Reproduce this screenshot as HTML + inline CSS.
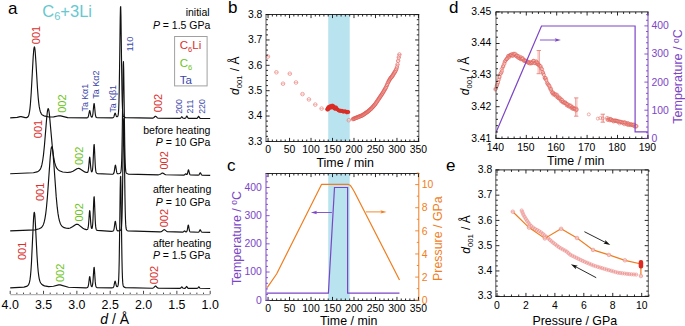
<!DOCTYPE html>
<html><head><meta charset="utf-8"><style>
html,body{margin:0;padding:0;background:#fff;overflow:hidden}
svg{display:block;font-family:"Liberation Sans", sans-serif}
</style></head><body>
<svg width="685" height="326" viewBox="0 0 685 326">
<rect width="685" height="326" fill="#fff"/>
<text x="8" y="13.6" font-size="17" fill="#000" text-anchor="start" >a</text>
<text x="42.3" y="17" font-size="16.5" fill="#66c8d0">C<tspan font-size="11" dy="3">6</tspan><tspan dy="-3">+3Li</tspan></text>
<path d="M10.2,117.88 L17.2,117.41 L20.2,116.65 L21.2,116.65 L25.2,117.57 L26.45,117.61 L27.2,117.43 L27.7,117.09 L28.2,116.45 L28.45,115.96 L28.95,114.48 L29.45,112.12 L29.95,108.57 L30.45,103.57 L31.2,93.07 L33.2,56.7 L33.7,50.43 L33.95,48.42 L34.2,47.25 L34.45,46.98 L34.7,47.67 L34.95,49.31 L35.2,51.78 L35.95,62.71 L37.45,87.91 L38.2,97.66 L38.7,102.61 L39.2,106.4 L39.7,109.19 L40.2,111.19 L40.7,112.6 L41.2,113.59 L41.7,114.3 L42.45,115.02 L43.95,115.87 L48.95,116.96 L53.7,116.87 L58.95,115.8 L60.7,115.91 L67.7,117.6 L86.7,117.85 L87.45,117.69 L87.7,117.55 L87.95,117.3 L88.2,116.85 L88.45,116.13 L88.95,113.7 L89.45,111.02 L89.7,110.53 L89.95,110.99 L90.7,114.92 L90.95,115.94 L91.2,116.61 L91.45,116.98 L91.7,117.12 L91.95,117.07 L92.2,116.81 L92.45,116.24 L92.7,115.2 L92.95,113.54 L93.7,105.66 L93.95,103.77 L94.2,103.59 L94.45,105.21 L95.2,113.22 L95.45,115.04 L95.7,116.23 L95.95,116.93 L96.2,117.31 L96.45,117.52 L97.2,117.78 L112.2,117.87 L112.95,117.72 L113.2,117.6 L113.45,117.39 L113.7,117.03 L113.95,116.48 L114.7,113.89 L114.95,113.26 L115.2,113.15 L115.45,113.61 L116.2,115.94 L116.45,116.42 L116.7,116.69 L116.95,116.78 L117.2,116.74 L117.45,116.59 L117.7,116.3 L117.95,115.75 L118.2,114.69 L118.45,112.63 L118.7,108.79 L118.95,102.13 L119.2,91.6 L119.7,57.91 L120.2,19.21 L120.45,7.65 L120.7,6.52 L120.95,16.22 L121.7,73.21 L121.95,89.02 L122.2,100.42 L122.45,107.79 L122.7,112.12 L122.95,114.48 L123.2,115.71 L123.45,116.35 L123.7,116.72 L124.2,117.13 L125.45,117.62 L152.2,118.19 L152.95,118.06 L153.45,117.86 L153.95,117.51 L154.95,116.5 L155.2,116.32 L155.45,116.23 L155.7,116.27 L155.95,116.42 L157.2,117.64 L157.7,117.95 L158.7,118.2 L179.95,118.32 L180.45,118.2 L180.7,118.04 L180.95,117.76 L181.45,116.99 L181.7,116.72 L181.95,116.75 L182.7,117.82 L182.95,118.07 L183.2,118.21 L184.7,118.31 L185.2,118.24 L185.45,118.12 L185.7,117.89 L185.95,117.51 L186.45,116.42 L186.7,116.05 L186.95,116.1 L187.2,116.53 L187.7,117.61 L187.95,117.97 L188.2,118.17 L188.7,118.33 L196.7,118.36 L197.2,118.22 L197.45,118.04 L197.7,117.71 L198.2,116.73 L198.45,116.33 L198.7,116.29 L198.95,116.63 L199.45,117.64 L199.7,117.99 L199.95,118.2 L200.45,118.37 L210.2,118.49" fill="none" stroke="#111" stroke-width="1.15" stroke-linejoin="round"/>
<path d="M10.2,173.77 L33.45,172.8 L36.95,171.92 L38.45,171.17 L39.2,170.57 L39.95,169.68 L40.45,168.85 L40.95,167.75 L41.45,166.29 L41.95,164.39 L42.7,160.51 L43.45,155.12 L44.45,145.43 L46.7,117.9 L47.2,113.04 L47.45,111.19 L47.7,109.81 L47.95,108.96 L48.2,108.67 L48.45,108.94 L48.7,109.74 L48.95,111.04 L49.45,114.91 L52.2,145.52 L53.2,154.13 L53.95,158.99 L54.7,162.63 L55.45,165.26 L56.2,167.12 L56.95,168.44 L57.95,169.63 L59.45,170.74 L62.7,171.96 L67.45,172.53 L70.45,172.19 L72.95,171.24 L76.95,168.79 L77.95,168.45 L78.7,168.43 L79.45,168.61 L84.7,171.89 L86.2,172.42 L86.95,172.5 L87.2,172.47 L87.45,172.36 L87.7,172.13 L87.95,171.63 L88.2,170.71 L88.45,169.17 L88.7,166.89 L89.45,158.18 L89.7,157.13 L89.95,158.18 L90.7,166.87 L90.95,169.13 L91.2,170.63 L91.45,171.47 L91.7,171.81 L91.95,171.75 L92.2,171.25 L92.45,170.12 L92.7,168.03 L92.95,164.69 L93.7,148.76 L93.95,144.95 L94.2,144.59 L94.45,147.89 L95.2,164.16 L95.45,167.87 L95.7,170.28 L95.95,171.71 L96.2,172.5 L96.45,172.93 L96.7,173.19 L97.45,173.58 L111.7,174.24 L112.95,174.06 L113.2,173.95 L113.45,173.76 L113.7,173.41 L113.95,172.8 L114.2,171.82 L114.95,166.88 L115.2,165.51 L115.45,165.14 L115.7,165.94 L116.45,170.93 L116.7,172.14 L116.95,172.93 L117.2,173.4 L117.45,173.64 L117.7,173.75 L118.45,173.79 L119.45,173.56 L119.95,173.32 L120.2,173.12 L120.45,172.83 L120.7,172.33 L120.95,171.39 L121.2,169.57 L121.45,166.14 L121.7,160.09 L121.95,150.35 L122.2,136.22 L122.95,78.39 L123.2,65.05 L123.45,61.66 L123.7,69.4 L124.7,142.46 L124.95,154.81 L125.2,162.97 L125.45,167.84 L125.7,170.53 L125.95,171.95 L126.2,172.69 L126.45,173.1 L126.95,173.54 L128.2,174.06 L158.45,174.81 L159.7,174.55 L160.7,174.02 L161.95,173.15 L162.45,173 L162.7,173.03 L163.2,173.25 L164.7,174.31 L165.7,174.73 L183.95,175.06 L184.45,174.93 L184.7,174.77 L185.45,173.91 L185.7,173.78 L185.95,173.88 L186.45,174.39 L186.7,174.53 L186.95,174.5 L187.2,174.21 L187.45,173.61 L188.2,170.4 L188.45,169.8 L188.7,170.08 L189.45,173.33 L189.7,174.11 L189.95,174.58 L190.2,174.84 L190.7,175.04 L198.2,175.18 L198.7,175.06 L198.95,174.9 L199.2,174.62 L199.95,173.08 L200.2,172.73 L200.45,172.77 L200.7,173.19 L201.2,174.31 L201.45,174.71 L201.7,174.97 L201.95,175.11 L210.2,175.37" fill="none" stroke="#111" stroke-width="1.15" stroke-linejoin="round"/>
<path d="M10.2,230.93 L35.2,229.82 L39.2,228.81 L40.7,228.05 L41.7,227.23 L42.45,226.29 L43.2,224.9 L43.7,223.62 L44.2,221.96 L44.95,218.57 L45.7,213.83 L46.45,207.49 L47.45,196.36 L50.2,157.6 L50.7,152.18 L50.95,150.08 L51.2,148.46 L51.45,147.36 L51.7,146.84 L51.95,146.9 L52.2,147.56 L52.45,148.8 L52.95,152.83 L53.95,165.25 L56.2,196.66 L57.2,207.18 L57.95,213.15 L58.7,217.63 L59.45,220.86 L60.2,223.14 L60.95,224.72 L61.7,225.81 L62.7,226.79 L64.2,227.67 L66.45,228.3 L68.45,228.34 L70.2,227.94 L72.45,226.77 L75.45,224.66 L76.2,224.32 L76.95,224.2 L77.7,224.32 L78.7,224.83 L82.95,228.26 L84.7,229.18 L86.2,229.57 L86.95,229.56 L87.2,229.49 L87.45,229.33 L87.7,229.02 L87.95,228.39 L88.2,227.24 L88.45,225.34 L88.7,222.53 L89.45,211.83 L89.7,210.55 L89.95,211.81 L90.7,222.41 L90.95,225.17 L91.2,227 L91.45,228.03 L91.7,228.45 L91.95,228.4 L92.2,227.82 L92.45,226.49 L92.7,224.07 L92.95,220.17 L93.7,201.6 L93.95,197.16 L94.2,196.74 L94.45,200.58 L95.2,219.55 L95.45,223.86 L95.7,226.67 L95.95,228.33 L96.2,229.25 L96.45,229.76 L96.7,230.06 L97.2,230.4 L111.2,231.31 L112.7,231.13 L113.2,230.9 L113.45,230.63 L113.7,230.14 L113.95,229.31 L114.2,228.04 L114.95,222.44 L115.2,221.3 L115.45,221.43 L115.7,222.75 L116.45,228.25 L116.7,229.41 L116.95,230.13 L117.2,230.54 L117.45,230.76 L117.95,230.9 L119.2,230.8 L119.95,230.55 L120.45,230.23 L120.7,229.97 L120.95,229.52 L121.2,228.7 L121.45,227.1 L121.7,224.07 L121.95,218.65 L122.2,209.74 L122.45,196.52 L123.2,139.13 L123.45,124.28 L123.7,118.69 L123.95,124.29 L124.2,139.15 L124.95,196.57 L125.2,209.8 L125.45,218.72 L125.7,224.15 L125.95,227.19 L126.2,228.8 L126.45,229.63 L126.7,230.09 L126.95,230.37 L127.7,230.84 L159.95,231.87 L161.2,231.63 L161.95,231.28 L163.7,229.86 L163.95,229.73 L164.2,229.66 L164.45,229.67 L164.95,229.91 L166.45,231.18 L167.2,231.6 L182.7,232.08 L183.2,231.98 L183.45,231.85 L184.2,231.08 L184.45,230.92 L184.7,230.98 L185.45,231.7 L185.7,231.83 L185.95,231.89 L186.2,231.87 L186.45,231.78 L186.7,231.57 L186.95,231.14 L187.2,230.37 L187.45,229.18 L187.95,226.09 L188.2,225.1 L188.45,225.23 L188.7,226.39 L189.2,229.47 L189.45,230.59 L189.7,231.29 L189.95,231.68 L190.2,231.87 L197.95,232.2 L198.45,232.12 L198.7,232.02 L198.95,231.83 L199.2,231.5 L199.95,230 L200.2,229.79 L200.45,230 L201.2,231.52 L201.45,231.85 L201.7,232.05 L202.2,232.2 L210.2,232.36" fill="none" stroke="#111" stroke-width="1.15" stroke-linejoin="round"/>
<path d="M10.2,287.88 L23.95,287.08 L26.45,286.4 L27.45,285.87 L27.95,285.46 L28.45,284.84 L28.95,283.88 L29.45,282.34 L29.95,279.89 L30.45,276.1 L30.95,270.56 L31.45,262.97 L33.45,220.4 L33.7,216.47 L33.95,213.72 L34.2,212.35 L34.45,212.48 L34.7,213.97 L34.95,216.69 L35.45,224.87 L36.95,254.65 L37.7,265.97 L38.2,271.51 L38.7,275.61 L39.2,278.54 L39.7,280.59 L40.2,282.01 L40.7,283.01 L41.45,284.02 L42.45,284.88 L44.45,285.86 L48.7,286.6 L53.45,286.27 L58.7,284.9 L60.2,284.9 L68.45,287.23 L85.95,287.82 L87.2,287.6 L87.45,287.48 L87.7,287.27 L87.95,286.89 L88.2,286.21 L88.45,285.1 L88.7,283.47 L89.45,277.31 L89.7,276.56 L89.95,277.27 L90.7,283.28 L90.95,284.83 L91.2,285.86 L91.45,286.44 L91.7,286.66 L91.95,286.6 L92.2,286.24 L92.45,285.43 L92.7,283.95 L92.95,281.6 L93.7,270.37 L93.95,267.69 L94.2,267.43 L94.45,269.73 L95.2,281.15 L95.45,283.75 L95.7,285.44 L95.95,286.43 L96.2,286.98 L96.45,287.28 L96.95,287.57 L111.7,287.91 L112.7,287.74 L112.95,287.65 L113.2,287.48 L113.45,287.18 L113.7,286.68 L113.95,285.89 L114.7,282.22 L114.95,281.33 L115.2,281.2 L115.45,281.88 L116.2,285.3 L116.45,286.03 L116.7,286.46 L116.95,286.65 L117.2,286.66 L117.45,286.54 L117.7,286.26 L117.95,285.72 L118.2,284.67 L118.45,282.61 L118.7,278.77 L118.95,272.1 L119.2,261.56 L119.7,227.8 L120.2,189.04 L120.45,177.47 L120.7,176.34 L120.95,186.05 L121.7,243.15 L121.95,258.98 L122.2,270.41 L122.45,277.79 L122.7,282.13 L122.95,284.49 L123.2,285.72 L123.45,286.37 L123.7,286.74 L124.2,287.15 L125.45,287.64 L152.2,288.2 L152.95,288.06 L153.45,287.83 L153.95,287.45 L154.95,286.35 L155.2,286.15 L155.45,286.05 L155.7,286.1 L155.95,286.26 L157.2,287.6 L157.7,287.93 L158.45,288.17 L179.95,288.34 L180.45,288.23 L180.7,288.09 L181.45,287.16 L181.7,286.93 L181.95,286.96 L182.7,287.9 L182.95,288.12 L183.45,288.3 L184.7,288.32 L185.2,288.2 L185.45,288.03 L185.7,287.74 L186.45,286.49 L186.7,286.45 L186.95,286.77 L187.45,287.68 L187.7,288 L187.95,288.19 L188.45,288.34 L196.95,288.38 L197.45,288.27 L197.7,288.11 L197.95,287.86 L198.45,287.13 L198.7,286.88 L198.95,286.91 L199.7,287.92 L199.95,288.16 L200.2,288.3 L210.2,288.48" fill="none" stroke="#111" stroke-width="1.15" stroke-linejoin="round"/>
<line x1="10.2" y1="294.6" x2="210.4" y2="294.6" stroke="#b4b4b4" stroke-width="1.4"/>
<line x1="10.2" y1="294" x2="10.2" y2="290.8" stroke="#333" stroke-width="0.9" />
<line x1="16.87" y1="294" x2="16.87" y2="292.6" stroke="#333" stroke-width="0.9" />
<line x1="23.53" y1="294" x2="23.53" y2="292.6" stroke="#333" stroke-width="0.9" />
<line x1="30.2" y1="294" x2="30.2" y2="292.6" stroke="#333" stroke-width="0.9" />
<line x1="36.87" y1="294" x2="36.87" y2="292.6" stroke="#333" stroke-width="0.9" />
<line x1="43.53" y1="294" x2="43.53" y2="290.8" stroke="#333" stroke-width="0.9" />
<line x1="50.2" y1="294" x2="50.2" y2="292.6" stroke="#333" stroke-width="0.9" />
<line x1="56.87" y1="294" x2="56.87" y2="292.6" stroke="#333" stroke-width="0.9" />
<line x1="63.53" y1="294" x2="63.53" y2="292.6" stroke="#333" stroke-width="0.9" />
<line x1="70.2" y1="294" x2="70.2" y2="292.6" stroke="#333" stroke-width="0.9" />
<line x1="76.87" y1="294" x2="76.87" y2="290.8" stroke="#333" stroke-width="0.9" />
<line x1="83.53" y1="294" x2="83.53" y2="292.6" stroke="#333" stroke-width="0.9" />
<line x1="90.2" y1="294" x2="90.2" y2="292.6" stroke="#333" stroke-width="0.9" />
<line x1="96.87" y1="294" x2="96.87" y2="292.6" stroke="#333" stroke-width="0.9" />
<line x1="103.53" y1="294" x2="103.53" y2="292.6" stroke="#333" stroke-width="0.9" />
<line x1="110.2" y1="294" x2="110.2" y2="290.8" stroke="#333" stroke-width="0.9" />
<line x1="116.87" y1="294" x2="116.87" y2="292.6" stroke="#333" stroke-width="0.9" />
<line x1="123.53" y1="294" x2="123.53" y2="292.6" stroke="#333" stroke-width="0.9" />
<line x1="130.2" y1="294" x2="130.2" y2="292.6" stroke="#333" stroke-width="0.9" />
<line x1="136.87" y1="294" x2="136.87" y2="292.6" stroke="#333" stroke-width="0.9" />
<line x1="143.53" y1="294" x2="143.53" y2="290.8" stroke="#333" stroke-width="0.9" />
<line x1="150.2" y1="294" x2="150.2" y2="292.6" stroke="#333" stroke-width="0.9" />
<line x1="156.87" y1="294" x2="156.87" y2="292.6" stroke="#333" stroke-width="0.9" />
<line x1="163.53" y1="294" x2="163.53" y2="292.6" stroke="#333" stroke-width="0.9" />
<line x1="170.2" y1="294" x2="170.2" y2="292.6" stroke="#333" stroke-width="0.9" />
<line x1="176.87" y1="294" x2="176.87" y2="290.8" stroke="#333" stroke-width="0.9" />
<line x1="183.53" y1="294" x2="183.53" y2="292.6" stroke="#333" stroke-width="0.9" />
<line x1="190.2" y1="294" x2="190.2" y2="292.6" stroke="#333" stroke-width="0.9" />
<line x1="196.87" y1="294" x2="196.87" y2="292.6" stroke="#333" stroke-width="0.9" />
<line x1="203.53" y1="294" x2="203.53" y2="292.6" stroke="#333" stroke-width="0.9" />
<line x1="210.2" y1="294" x2="210.2" y2="290.8" stroke="#333" stroke-width="0.9" />
<text x="10.2" y="309" font-size="12.4" fill="#000" text-anchor="middle" >4.0</text>
<text x="43.53" y="309" font-size="12.4" fill="#000" text-anchor="middle" >3.5</text>
<text x="76.87" y="309" font-size="12.4" fill="#000" text-anchor="middle" >3.0</text>
<text x="110.2" y="309" font-size="12.4" fill="#000" text-anchor="middle" >2.5</text>
<text x="143.53" y="309" font-size="12.4" fill="#000" text-anchor="middle" >2.0</text>
<text x="176.86" y="309" font-size="12.4" fill="#000" text-anchor="middle" >1.5</text>
<text x="210.2" y="309" font-size="12.4" fill="#000" text-anchor="middle" >1.0</text>
<text x="114.7" y="323.5" font-size="14" text-anchor="middle"><tspan font-style="italic">d</tspan> / Å</text>
<text transform="translate(39.6,44.2) rotate(-90)" font-size="11" fill="#d9302c" text-anchor="start">001</text>
<text transform="translate(66,112.8) rotate(-90)" font-size="11" fill="#6cc322" text-anchor="start">002</text>
<text transform="translate(87.8,111.5) rotate(-90)" font-size="8.8" fill="#3c46aa" text-anchor="start">Ta Kα1</text>
<text transform="translate(98.7,98.8) rotate(-90)" font-size="9.0" fill="#3c46aa" text-anchor="start">Ta Kα2</text>
<text transform="translate(116,112.6) rotate(-90)" font-size="8.8" fill="#3c46aa" text-anchor="start">Ta Kβ1</text>
<text transform="translate(132.5,51.4) rotate(-90)" font-size="9.3" fill="#3c46aa" text-anchor="start">110</text>
<text transform="translate(161.5,112.2) rotate(-90)" font-size="11" fill="#d9302c" text-anchor="start">002</text>
<text transform="translate(182.2,113.8) rotate(-90)" font-size="8.8" fill="#3c46aa" text-anchor="start">200</text>
<text transform="translate(192.6,113.6) rotate(-90)" font-size="8.8" fill="#3c46aa" text-anchor="start">211</text>
<text transform="translate(204.5,113.8) rotate(-90)" font-size="8.8" fill="#3c46aa" text-anchor="start">220</text>
<text transform="translate(41.8,138.2) rotate(-90)" font-size="11" fill="#d9302c" text-anchor="start">001</text>
<text transform="translate(83,165.1) rotate(-90)" font-size="11" fill="#6cc322" text-anchor="start">002</text>
<text transform="translate(167.6,169.5) rotate(-90)" font-size="11" fill="#d9302c" text-anchor="start">002</text>
<text transform="translate(43.6,201) rotate(-90)" font-size="11" fill="#d9302c" text-anchor="start">001</text>
<text transform="translate(83,221.6) rotate(-90)" font-size="11" fill="#6cc322" text-anchor="start">002</text>
<text transform="translate(167.6,227.3) rotate(-90)" font-size="11" fill="#d9302c" text-anchor="start">002</text>
<text transform="translate(26.4,260.1) rotate(-90)" font-size="11" fill="#d9302c" text-anchor="start">001</text>
<text transform="translate(64.2,282) rotate(-90)" font-size="11" fill="#6cc322" text-anchor="start">002</text>
<text transform="translate(158,284.2) rotate(-90)" font-size="11" fill="#d9302c" text-anchor="start">002</text>
<text x="209.6" y="16" font-size="10.5" fill="#000" text-anchor="end" >initial</text>
<text x="210.4" y="28.5" font-size="10.5" fill="#000" text-anchor="end" ><tspan font-style="italic">P</tspan> = 1.5 GPa</text>
<text x="210.4" y="134" font-size="10.5" fill="#000" text-anchor="end" >before heating</text>
<text x="210.4" y="146.4" font-size="10.5" fill="#000" text-anchor="end" ><tspan font-style="italic">P</tspan> = 10 GPa</text>
<text x="211.3" y="193" font-size="10.5" fill="#000" text-anchor="end" >after heating</text>
<text x="210.4" y="205.7" font-size="10.5" fill="#000" text-anchor="end" ><tspan font-style="italic">P</tspan> = 10 GPa</text>
<text x="211.3" y="246.5" font-size="10.5" fill="#000" text-anchor="end" >after heating</text>
<text x="210.4" y="258.8" font-size="10.5" fill="#000" text-anchor="end" ><tspan font-style="italic">P</tspan> = 1.5 GPa</text>
<rect x="174.6" y="36.5" width="32.5" height="49.4" fill="#fff" stroke="#a0a0a0" stroke-width="1"/>
<text x="179.8" y="49.3" font-size="11.5" fill="#d9302c">C<tspan font-size="7.5" dy="2.7">6</tspan><tspan dy="-2.7">Li</tspan></text>
<text x="179.8" y="66.8" font-size="11.5" fill="#6cc322">C<tspan font-size="7.5" dy="2.7">6</tspan></text>
<text x="179.8" y="83.7" font-size="11.5" fill="#3c46aa">Ta</text>
<rect x="328.21" y="14.5" width="21.48" height="127" fill="#b8e3ef"/>
<text x="228" y="13.4" font-size="17" fill="#000" text-anchor="start" >b</text>
<circle cx="267.9" cy="56.6" r="1.8" fill="rgba(255,255,255,0.4)" stroke="#e8706a" stroke-width="0.6"/>
<line x1="266.1" y1="56.6" x2="269.7" y2="56.6" stroke="#e8706a" stroke-width="0.45" />
<circle cx="276.4" cy="72.3" r="1.8" fill="rgba(255,255,255,0.4)" stroke="#e8706a" stroke-width="0.6"/>
<line x1="274.6" y1="72.3" x2="278.2" y2="72.3" stroke="#e8706a" stroke-width="0.45" />
<circle cx="283" cy="83.7" r="1.8" fill="rgba(255,255,255,0.4)" stroke="#e8706a" stroke-width="0.6"/>
<line x1="281.2" y1="83.7" x2="284.8" y2="83.7" stroke="#e8706a" stroke-width="0.45" />
<circle cx="289.8" cy="73.7" r="1.8" fill="rgba(255,255,255,0.4)" stroke="#e8706a" stroke-width="0.6"/>
<line x1="288" y1="73.7" x2="291.6" y2="73.7" stroke="#e8706a" stroke-width="0.45" />
<circle cx="296" cy="82.5" r="1.8" fill="rgba(255,255,255,0.4)" stroke="#e8706a" stroke-width="0.6"/>
<line x1="294.2" y1="82.5" x2="297.8" y2="82.5" stroke="#e8706a" stroke-width="0.45" />
<circle cx="302.5" cy="94.1" r="1.8" fill="rgba(255,255,255,0.4)" stroke="#e8706a" stroke-width="0.6"/>
<line x1="300.7" y1="94.1" x2="304.3" y2="94.1" stroke="#e8706a" stroke-width="0.45" />
<circle cx="308.9" cy="99.4" r="1.8" fill="rgba(255,255,255,0.4)" stroke="#e8706a" stroke-width="0.6"/>
<line x1="307.1" y1="99.4" x2="310.7" y2="99.4" stroke="#e8706a" stroke-width="0.45" />
<circle cx="315.3" cy="104.6" r="1.8" fill="rgba(255,255,255,0.4)" stroke="#e8706a" stroke-width="0.6"/>
<line x1="313.5" y1="104.6" x2="317.1" y2="104.6" stroke="#e8706a" stroke-width="0.45" />
<circle cx="321.6" cy="108.6" r="1.8" fill="rgba(255,255,255,0.4)" stroke="#e8706a" stroke-width="0.6"/>
<line x1="319.8" y1="108.6" x2="323.4" y2="108.6" stroke="#e8706a" stroke-width="0.45" />
<circle cx="348.8" cy="120.2" r="1.8" fill="rgba(255,255,255,0.4)" stroke="#e8706a" stroke-width="0.6"/>
<line x1="347" y1="120.2" x2="350.6" y2="120.2" stroke="#e8706a" stroke-width="0.45" />
<circle cx="327.44" cy="109.37" r="1.9" fill="#e0322a" stroke="#d42a22" stroke-width="0.5"/>
<circle cx="327.86" cy="109.06" r="1.9" fill="#e0322a" stroke="#d42a22" stroke-width="0.5"/>
<circle cx="328.35" cy="107.79" r="1.9" fill="#e0322a" stroke="#d42a22" stroke-width="0.5"/>
<circle cx="328.32" cy="108.61" r="1.9" fill="#e0322a" stroke="#d42a22" stroke-width="0.5"/>
<circle cx="328.8" cy="107.24" r="1.9" fill="#e0322a" stroke="#d42a22" stroke-width="0.5"/>
<circle cx="329.69" cy="107.33" r="1.9" fill="#e0322a" stroke="#d42a22" stroke-width="0.5"/>
<circle cx="330.05" cy="107.08" r="1.9" fill="#e0322a" stroke="#d42a22" stroke-width="0.5"/>
<circle cx="330.4" cy="106.3" r="1.9" fill="#e0322a" stroke="#d42a22" stroke-width="0.5"/>
<circle cx="330.88" cy="107.28" r="1.9" fill="#e0322a" stroke="#d42a22" stroke-width="0.5"/>
<circle cx="331.34" cy="107.05" r="1.9" fill="#e0322a" stroke="#d42a22" stroke-width="0.5"/>
<circle cx="331.96" cy="105.94" r="1.9" fill="#e0322a" stroke="#d42a22" stroke-width="0.5"/>
<circle cx="332.54" cy="106.75" r="1.9" fill="#e0322a" stroke="#d42a22" stroke-width="0.5"/>
<circle cx="332.78" cy="105.98" r="1.9" fill="#e0322a" stroke="#d42a22" stroke-width="0.5"/>
<circle cx="333.62" cy="106.86" r="1.9" fill="#e0322a" stroke="#d42a22" stroke-width="0.5"/>
<circle cx="334.03" cy="107.67" r="1.9" fill="#e0322a" stroke="#d42a22" stroke-width="0.5"/>
<circle cx="334.48" cy="108.01" r="1.9" fill="#e0322a" stroke="#d42a22" stroke-width="0.5"/>
<circle cx="334.73" cy="108.11" r="1.9" fill="#e0322a" stroke="#d42a22" stroke-width="0.5"/>
<circle cx="335.2" cy="108.62" r="1.9" fill="#e0322a" stroke="#d42a22" stroke-width="0.5"/>
<circle cx="335.91" cy="107.57" r="1.9" fill="#e0322a" stroke="#d42a22" stroke-width="0.5"/>
<circle cx="335.89" cy="108.28" r="1.45" fill="#e0322a" stroke="#d42a22" stroke-width="0.5"/>
<circle cx="336.81" cy="108.8" r="1.45" fill="#e0322a" stroke="#d42a22" stroke-width="0.5"/>
<circle cx="337.02" cy="109" r="1.45" fill="#e0322a" stroke="#d42a22" stroke-width="0.5"/>
<circle cx="337.37" cy="109.4" r="1.45" fill="#e0322a" stroke="#d42a22" stroke-width="0.5"/>
<circle cx="337.73" cy="109.85" r="1.45" fill="#e0322a" stroke="#d42a22" stroke-width="0.5"/>
<circle cx="338.34" cy="110.38" r="1.45" fill="#e0322a" stroke="#d42a22" stroke-width="0.5"/>
<circle cx="338.87" cy="110.66" r="1.45" fill="#e0322a" stroke="#d42a22" stroke-width="0.5"/>
<circle cx="339.46" cy="110.91" r="1.45" fill="#e0322a" stroke="#d42a22" stroke-width="0.5"/>
<circle cx="339.86" cy="110.3" r="1.45" fill="#e0322a" stroke="#d42a22" stroke-width="0.5"/>
<circle cx="340.49" cy="111.15" r="1.45" fill="#e0322a" stroke="#d42a22" stroke-width="0.5"/>
<circle cx="341.03" cy="110.93" r="1.45" fill="#e0322a" stroke="#d42a22" stroke-width="0.5"/>
<circle cx="341.43" cy="110.72" r="1.45" fill="#e0322a" stroke="#d42a22" stroke-width="0.5"/>
<circle cx="342.02" cy="111.14" r="1.45" fill="#e0322a" stroke="#d42a22" stroke-width="0.5"/>
<circle cx="342.21" cy="110.78" r="1.45" fill="#e0322a" stroke="#d42a22" stroke-width="0.5"/>
<circle cx="343.08" cy="111.71" r="1.45" fill="#e0322a" stroke="#d42a22" stroke-width="0.5"/>
<circle cx="343.14" cy="111.64" r="1.45" fill="#e0322a" stroke="#d42a22" stroke-width="0.5"/>
<circle cx="343.85" cy="111.15" r="1.45" fill="#e0322a" stroke="#d42a22" stroke-width="0.5"/>
<circle cx="344.3" cy="111.8" r="1.45" fill="#e0322a" stroke="#d42a22" stroke-width="0.5"/>
<circle cx="345.17" cy="111.24" r="1.45" fill="#e0322a" stroke="#d42a22" stroke-width="0.5"/>
<circle cx="345.54" cy="111.34" r="1.45" fill="#e0322a" stroke="#d42a22" stroke-width="0.5"/>
<circle cx="346.12" cy="111.71" r="1.45" fill="#e0322a" stroke="#d42a22" stroke-width="0.5"/>
<circle cx="346.74" cy="112.39" r="1.45" fill="#e0322a" stroke="#d42a22" stroke-width="0.5"/>
<circle cx="347.03" cy="112.51" r="1.45" fill="#e0322a" stroke="#d42a22" stroke-width="0.5"/>
<circle cx="347.44" cy="111.77" r="1.45" fill="#e0322a" stroke="#d42a22" stroke-width="0.5"/>
<circle cx="348.14" cy="111.8" r="1.45" fill="#e0322a" stroke="#d42a22" stroke-width="0.5"/>
<circle cx="348.42" cy="112.22" r="1.45" fill="#e0322a" stroke="#d42a22" stroke-width="0.5"/>
<circle cx="352.9" cy="119.1" r="1.75" fill="rgba(255,255,255,0.4)" stroke="#dd4a42" stroke-width="0.55"/>
<line x1="351.15" y1="119.1" x2="354.65" y2="119.1" stroke="#dd4a42" stroke-width="0.45" />
<circle cx="353.52" cy="118.86" r="1.75" fill="rgba(255,255,255,0.4)" stroke="#dd4a42" stroke-width="0.55"/>
<line x1="351.77" y1="118.86" x2="355.27" y2="118.86" stroke="#dd4a42" stroke-width="0.45" />
<circle cx="354.14" cy="118.61" r="1.75" fill="rgba(255,255,255,0.4)" stroke="#dd4a42" stroke-width="0.55"/>
<line x1="352.39" y1="118.61" x2="355.89" y2="118.61" stroke="#dd4a42" stroke-width="0.45" />
<circle cx="354.76" cy="118.37" r="1.75" fill="rgba(255,255,255,0.4)" stroke="#dd4a42" stroke-width="0.55"/>
<line x1="353.01" y1="118.37" x2="356.51" y2="118.37" stroke="#dd4a42" stroke-width="0.45" />
<circle cx="355.38" cy="118.13" r="1.75" fill="rgba(255,255,255,0.4)" stroke="#dd4a42" stroke-width="0.55"/>
<line x1="353.63" y1="118.13" x2="357.13" y2="118.13" stroke="#dd4a42" stroke-width="0.45" />
<circle cx="356" cy="117.88" r="1.75" fill="rgba(255,255,255,0.4)" stroke="#dd4a42" stroke-width="0.55"/>
<line x1="354.25" y1="117.88" x2="357.75" y2="117.88" stroke="#dd4a42" stroke-width="0.45" />
<circle cx="356.62" cy="117.64" r="1.75" fill="rgba(255,255,255,0.4)" stroke="#dd4a42" stroke-width="0.55"/>
<line x1="354.87" y1="117.64" x2="358.37" y2="117.64" stroke="#dd4a42" stroke-width="0.45" />
<circle cx="357.24" cy="117.4" r="1.75" fill="rgba(255,255,255,0.4)" stroke="#dd4a42" stroke-width="0.55"/>
<line x1="355.49" y1="117.4" x2="358.99" y2="117.4" stroke="#dd4a42" stroke-width="0.45" />
<circle cx="357.86" cy="117.15" r="1.75" fill="rgba(255,255,255,0.4)" stroke="#dd4a42" stroke-width="0.55"/>
<line x1="356.11" y1="117.15" x2="359.61" y2="117.15" stroke="#dd4a42" stroke-width="0.45" />
<circle cx="358.48" cy="116.9" r="1.75" fill="rgba(255,255,255,0.4)" stroke="#dd4a42" stroke-width="0.55"/>
<line x1="356.73" y1="116.9" x2="360.23" y2="116.9" stroke="#dd4a42" stroke-width="0.45" />
<circle cx="359.1" cy="116.65" r="1.75" fill="rgba(255,255,255,0.4)" stroke="#dd4a42" stroke-width="0.55"/>
<line x1="357.35" y1="116.65" x2="360.85" y2="116.65" stroke="#dd4a42" stroke-width="0.45" />
<circle cx="359.72" cy="116.39" r="1.75" fill="rgba(255,255,255,0.4)" stroke="#dd4a42" stroke-width="0.55"/>
<line x1="357.97" y1="116.39" x2="361.47" y2="116.39" stroke="#dd4a42" stroke-width="0.45" />
<circle cx="360.34" cy="116.13" r="1.75" fill="rgba(255,255,255,0.4)" stroke="#dd4a42" stroke-width="0.55"/>
<line x1="358.59" y1="116.13" x2="362.09" y2="116.13" stroke="#dd4a42" stroke-width="0.45" />
<circle cx="360.96" cy="115.88" r="1.75" fill="rgba(255,255,255,0.4)" stroke="#dd4a42" stroke-width="0.55"/>
<line x1="359.21" y1="115.88" x2="362.71" y2="115.88" stroke="#dd4a42" stroke-width="0.45" />
<circle cx="361.58" cy="115.62" r="1.75" fill="rgba(255,255,255,0.4)" stroke="#dd4a42" stroke-width="0.55"/>
<line x1="359.83" y1="115.62" x2="363.33" y2="115.62" stroke="#dd4a42" stroke-width="0.45" />
<circle cx="362.2" cy="115.37" r="1.75" fill="rgba(255,255,255,0.4)" stroke="#dd4a42" stroke-width="0.55"/>
<line x1="360.45" y1="115.37" x2="363.95" y2="115.37" stroke="#dd4a42" stroke-width="0.45" />
<circle cx="362.82" cy="115.05" r="1.75" fill="rgba(255,255,255,0.4)" stroke="#dd4a42" stroke-width="0.55"/>
<line x1="361.07" y1="115.05" x2="364.57" y2="115.05" stroke="#dd4a42" stroke-width="0.45" />
<circle cx="363.44" cy="114.62" r="1.75" fill="rgba(255,255,255,0.4)" stroke="#dd4a42" stroke-width="0.55"/>
<line x1="361.69" y1="114.62" x2="365.19" y2="114.62" stroke="#dd4a42" stroke-width="0.45" />
<circle cx="364.06" cy="114.19" r="1.75" fill="rgba(255,255,255,0.4)" stroke="#dd4a42" stroke-width="0.55"/>
<line x1="362.31" y1="114.19" x2="365.81" y2="114.19" stroke="#dd4a42" stroke-width="0.45" />
<circle cx="364.68" cy="113.76" r="1.75" fill="rgba(255,255,255,0.4)" stroke="#dd4a42" stroke-width="0.55"/>
<line x1="362.93" y1="113.76" x2="366.43" y2="113.76" stroke="#dd4a42" stroke-width="0.45" />
<circle cx="365.3" cy="113.33" r="1.75" fill="rgba(255,255,255,0.4)" stroke="#dd4a42" stroke-width="0.55"/>
<line x1="363.55" y1="113.33" x2="367.05" y2="113.33" stroke="#dd4a42" stroke-width="0.45" />
<circle cx="365.92" cy="112.9" r="1.75" fill="rgba(255,255,255,0.4)" stroke="#dd4a42" stroke-width="0.55"/>
<line x1="364.17" y1="112.9" x2="367.67" y2="112.9" stroke="#dd4a42" stroke-width="0.45" />
<circle cx="366.54" cy="112.47" r="1.75" fill="rgba(255,255,255,0.4)" stroke="#dd4a42" stroke-width="0.55"/>
<line x1="364.79" y1="112.47" x2="368.29" y2="112.47" stroke="#dd4a42" stroke-width="0.45" />
<circle cx="367.16" cy="112.04" r="1.75" fill="rgba(255,255,255,0.4)" stroke="#dd4a42" stroke-width="0.55"/>
<line x1="365.41" y1="112.04" x2="368.91" y2="112.04" stroke="#dd4a42" stroke-width="0.45" />
<circle cx="367.78" cy="111.61" r="1.75" fill="rgba(255,255,255,0.4)" stroke="#dd4a42" stroke-width="0.55"/>
<line x1="366.03" y1="111.61" x2="369.53" y2="111.61" stroke="#dd4a42" stroke-width="0.45" />
<circle cx="368.4" cy="111.08" r="1.75" fill="rgba(255,255,255,0.4)" stroke="#dd4a42" stroke-width="0.55"/>
<line x1="366.65" y1="111.08" x2="370.15" y2="111.08" stroke="#dd4a42" stroke-width="0.45" />
<circle cx="369.02" cy="110.54" r="1.75" fill="rgba(255,255,255,0.4)" stroke="#dd4a42" stroke-width="0.55"/>
<line x1="367.27" y1="110.54" x2="370.77" y2="110.54" stroke="#dd4a42" stroke-width="0.45" />
<circle cx="369.64" cy="110.01" r="1.75" fill="rgba(255,255,255,0.4)" stroke="#dd4a42" stroke-width="0.55"/>
<line x1="367.89" y1="110.01" x2="371.39" y2="110.01" stroke="#dd4a42" stroke-width="0.45" />
<circle cx="370.26" cy="109.47" r="1.75" fill="rgba(255,255,255,0.4)" stroke="#dd4a42" stroke-width="0.55"/>
<line x1="368.51" y1="109.47" x2="372.01" y2="109.47" stroke="#dd4a42" stroke-width="0.45" />
<circle cx="370.88" cy="108.94" r="1.75" fill="rgba(255,255,255,0.4)" stroke="#dd4a42" stroke-width="0.55"/>
<line x1="369.13" y1="108.94" x2="372.63" y2="108.94" stroke="#dd4a42" stroke-width="0.45" />
<circle cx="371.5" cy="108.4" r="1.75" fill="rgba(255,255,255,0.4)" stroke="#dd4a42" stroke-width="0.55"/>
<line x1="369.75" y1="108.4" x2="373.25" y2="108.4" stroke="#dd4a42" stroke-width="0.45" />
<circle cx="372.12" cy="107.7" r="1.75" fill="rgba(255,255,255,0.4)" stroke="#dd4a42" stroke-width="0.55"/>
<line x1="370.37" y1="107.7" x2="373.87" y2="107.7" stroke="#dd4a42" stroke-width="0.45" />
<circle cx="372.74" cy="106.99" r="1.75" fill="rgba(255,255,255,0.4)" stroke="#dd4a42" stroke-width="0.55"/>
<line x1="370.99" y1="106.99" x2="374.49" y2="106.99" stroke="#dd4a42" stroke-width="0.45" />
<circle cx="373.36" cy="106.29" r="1.75" fill="rgba(255,255,255,0.4)" stroke="#dd4a42" stroke-width="0.55"/>
<line x1="371.61" y1="106.29" x2="375.11" y2="106.29" stroke="#dd4a42" stroke-width="0.45" />
<circle cx="373.98" cy="105.58" r="1.75" fill="rgba(255,255,255,0.4)" stroke="#dd4a42" stroke-width="0.55"/>
<line x1="372.23" y1="105.58" x2="375.73" y2="105.58" stroke="#dd4a42" stroke-width="0.45" />
<circle cx="374.6" cy="104.88" r="1.75" fill="rgba(255,255,255,0.4)" stroke="#dd4a42" stroke-width="0.55"/>
<line x1="372.85" y1="104.88" x2="376.35" y2="104.88" stroke="#dd4a42" stroke-width="0.45" />
<circle cx="375.22" cy="104.17" r="1.75" fill="rgba(255,255,255,0.4)" stroke="#dd4a42" stroke-width="0.55"/>
<line x1="373.47" y1="104.17" x2="376.97" y2="104.17" stroke="#dd4a42" stroke-width="0.45" />
<circle cx="375.84" cy="103.25" r="1.75" fill="rgba(255,255,255,0.4)" stroke="#dd4a42" stroke-width="0.55"/>
<line x1="374.09" y1="103.25" x2="377.59" y2="103.25" stroke="#dd4a42" stroke-width="0.45" />
<circle cx="376.46" cy="102.33" r="1.75" fill="rgba(255,255,255,0.4)" stroke="#dd4a42" stroke-width="0.55"/>
<line x1="374.71" y1="102.33" x2="378.21" y2="102.33" stroke="#dd4a42" stroke-width="0.45" />
<circle cx="377.08" cy="101.41" r="1.75" fill="rgba(255,255,255,0.4)" stroke="#dd4a42" stroke-width="0.55"/>
<line x1="375.33" y1="101.41" x2="378.83" y2="101.41" stroke="#dd4a42" stroke-width="0.45" />
<circle cx="377.7" cy="100.48" r="1.75" fill="rgba(255,255,255,0.4)" stroke="#dd4a42" stroke-width="0.55"/>
<line x1="375.95" y1="100.48" x2="379.45" y2="100.48" stroke="#dd4a42" stroke-width="0.45" />
<circle cx="378.32" cy="99.56" r="1.75" fill="rgba(255,255,255,0.4)" stroke="#dd4a42" stroke-width="0.55"/>
<line x1="376.57" y1="99.56" x2="380.07" y2="99.56" stroke="#dd4a42" stroke-width="0.45" />
<circle cx="378.94" cy="98.64" r="1.75" fill="rgba(255,255,255,0.4)" stroke="#dd4a42" stroke-width="0.55"/>
<line x1="377.19" y1="98.64" x2="380.69" y2="98.64" stroke="#dd4a42" stroke-width="0.45" />
<circle cx="379.56" cy="97.72" r="1.75" fill="rgba(255,255,255,0.4)" stroke="#dd4a42" stroke-width="0.55"/>
<line x1="377.81" y1="97.72" x2="381.31" y2="97.72" stroke="#dd4a42" stroke-width="0.45" />
<circle cx="380.18" cy="96.8" r="1.75" fill="rgba(255,255,255,0.4)" stroke="#dd4a42" stroke-width="0.55"/>
<line x1="378.43" y1="96.8" x2="381.93" y2="96.8" stroke="#dd4a42" stroke-width="0.45" />
<circle cx="380.8" cy="95.88" r="1.75" fill="rgba(255,255,255,0.4)" stroke="#dd4a42" stroke-width="0.55"/>
<line x1="379.05" y1="95.88" x2="382.55" y2="95.88" stroke="#dd4a42" stroke-width="0.45" />
<circle cx="381.42" cy="94.95" r="1.75" fill="rgba(255,255,255,0.4)" stroke="#dd4a42" stroke-width="0.55"/>
<line x1="379.67" y1="94.95" x2="383.17" y2="94.95" stroke="#dd4a42" stroke-width="0.45" />
<circle cx="382.04" cy="94.03" r="1.75" fill="rgba(255,255,255,0.4)" stroke="#dd4a42" stroke-width="0.55"/>
<line x1="380.29" y1="94.03" x2="383.79" y2="94.03" stroke="#dd4a42" stroke-width="0.45" />
<circle cx="382.66" cy="93.1" r="1.75" fill="rgba(255,255,255,0.4)" stroke="#dd4a42" stroke-width="0.55"/>
<line x1="380.91" y1="93.1" x2="384.41" y2="93.1" stroke="#dd4a42" stroke-width="0.45" />
<circle cx="383.28" cy="92.03" r="1.75" fill="rgba(255,255,255,0.4)" stroke="#dd4a42" stroke-width="0.55"/>
<line x1="381.53" y1="92.03" x2="385.03" y2="92.03" stroke="#dd4a42" stroke-width="0.45" />
<circle cx="383.9" cy="90.97" r="1.75" fill="rgba(255,255,255,0.4)" stroke="#dd4a42" stroke-width="0.55"/>
<line x1="382.15" y1="90.97" x2="385.65" y2="90.97" stroke="#dd4a42" stroke-width="0.45" />
<circle cx="384.52" cy="89.9" r="1.75" fill="rgba(255,255,255,0.4)" stroke="#dd4a42" stroke-width="0.55"/>
<line x1="382.77" y1="89.9" x2="386.27" y2="89.9" stroke="#dd4a42" stroke-width="0.45" />
<circle cx="385.14" cy="88.83" r="1.75" fill="rgba(255,255,255,0.4)" stroke="#dd4a42" stroke-width="0.55"/>
<line x1="383.39" y1="88.83" x2="386.89" y2="88.83" stroke="#dd4a42" stroke-width="0.45" />
<circle cx="385.76" cy="87.77" r="1.75" fill="rgba(255,255,255,0.4)" stroke="#dd4a42" stroke-width="0.55"/>
<line x1="384.01" y1="87.77" x2="387.51" y2="87.77" stroke="#dd4a42" stroke-width="0.45" />
<circle cx="386.38" cy="86.38" r="1.75" fill="rgba(255,255,255,0.4)" stroke="#dd4a42" stroke-width="0.55"/>
<line x1="384.63" y1="86.38" x2="388.13" y2="86.38" stroke="#dd4a42" stroke-width="0.45" />
<circle cx="387" cy="84.96" r="1.75" fill="rgba(255,255,255,0.4)" stroke="#dd4a42" stroke-width="0.55"/>
<line x1="385.25" y1="84.96" x2="388.75" y2="84.96" stroke="#dd4a42" stroke-width="0.45" />
<circle cx="387.62" cy="83.55" r="1.75" fill="rgba(255,255,255,0.4)" stroke="#dd4a42" stroke-width="0.55"/>
<line x1="385.87" y1="83.55" x2="389.37" y2="83.55" stroke="#dd4a42" stroke-width="0.45" />
<circle cx="388.24" cy="82.14" r="1.75" fill="rgba(255,255,255,0.4)" stroke="#dd4a42" stroke-width="0.55"/>
<line x1="386.49" y1="82.14" x2="389.99" y2="82.14" stroke="#dd4a42" stroke-width="0.45" />
<circle cx="388.86" cy="81.01" r="1.75" fill="rgba(255,255,255,0.4)" stroke="#dd4a42" stroke-width="0.55"/>
<line x1="387.11" y1="81.01" x2="390.61" y2="81.01" stroke="#dd4a42" stroke-width="0.45" />
<circle cx="389.48" cy="79.92" r="1.75" fill="rgba(255,255,255,0.4)" stroke="#dd4a42" stroke-width="0.55"/>
<line x1="387.73" y1="79.92" x2="391.23" y2="79.92" stroke="#dd4a42" stroke-width="0.45" />
<circle cx="390.1" cy="78.83" r="1.75" fill="rgba(255,255,255,0.4)" stroke="#dd4a42" stroke-width="0.55"/>
<line x1="388.35" y1="78.83" x2="391.85" y2="78.83" stroke="#dd4a42" stroke-width="0.45" />
<circle cx="390.72" cy="77.95" r="1.75" fill="rgba(255,255,255,0.4)" stroke="#dd4a42" stroke-width="0.55"/>
<line x1="388.97" y1="77.95" x2="392.47" y2="77.95" stroke="#dd4a42" stroke-width="0.45" />
<circle cx="391.34" cy="77.26" r="1.75" fill="rgba(255,255,255,0.4)" stroke="#dd4a42" stroke-width="0.55"/>
<line x1="389.59" y1="77.26" x2="393.09" y2="77.26" stroke="#dd4a42" stroke-width="0.45" />
<circle cx="391.96" cy="76.58" r="1.75" fill="rgba(255,255,255,0.4)" stroke="#dd4a42" stroke-width="0.55"/>
<line x1="390.21" y1="76.58" x2="393.71" y2="76.58" stroke="#dd4a42" stroke-width="0.45" />
<circle cx="392.58" cy="75.7" r="1.75" fill="rgba(255,255,255,0.4)" stroke="#dd4a42" stroke-width="0.55"/>
<line x1="390.83" y1="75.7" x2="394.33" y2="75.7" stroke="#dd4a42" stroke-width="0.45" />
<circle cx="393.2" cy="74.59" r="1.75" fill="rgba(255,255,255,0.4)" stroke="#dd4a42" stroke-width="0.55"/>
<line x1="391.45" y1="74.59" x2="394.95" y2="74.59" stroke="#dd4a42" stroke-width="0.45" />
<circle cx="393.82" cy="73.52" r="1.75" fill="rgba(255,255,255,0.4)" stroke="#dd4a42" stroke-width="0.55"/>
<line x1="392.07" y1="73.52" x2="395.57" y2="73.52" stroke="#dd4a42" stroke-width="0.45" />
<circle cx="394.44" cy="72.59" r="1.75" fill="rgba(255,255,255,0.4)" stroke="#dd4a42" stroke-width="0.55"/>
<line x1="392.69" y1="72.59" x2="396.19" y2="72.59" stroke="#dd4a42" stroke-width="0.45" />
<circle cx="395.06" cy="71.66" r="1.75" fill="rgba(255,255,255,0.4)" stroke="#dd4a42" stroke-width="0.55"/>
<line x1="393.31" y1="71.66" x2="396.81" y2="71.66" stroke="#dd4a42" stroke-width="0.45" />
<circle cx="395.68" cy="70.48" r="1.75" fill="rgba(255,255,255,0.4)" stroke="#dd4a42" stroke-width="0.55"/>
<line x1="393.93" y1="70.48" x2="397.43" y2="70.48" stroke="#dd4a42" stroke-width="0.45" />
<circle cx="396.3" cy="69.15" r="1.75" fill="rgba(255,255,255,0.4)" stroke="#dd4a42" stroke-width="0.55"/>
<line x1="394.55" y1="69.15" x2="398.05" y2="69.15" stroke="#dd4a42" stroke-width="0.45" />
<circle cx="396.92" cy="67.17" r="1.75" fill="rgba(255,255,255,0.4)" stroke="#dd4a42" stroke-width="0.55"/>
<line x1="395.17" y1="67.17" x2="398.67" y2="67.17" stroke="#dd4a42" stroke-width="0.45" />
<circle cx="397.54" cy="64.47" r="1.75" fill="rgba(255,255,255,0.4)" stroke="#dd4a42" stroke-width="0.55"/>
<line x1="395.79" y1="64.47" x2="399.29" y2="64.47" stroke="#dd4a42" stroke-width="0.45" />
<circle cx="398.16" cy="60.87" r="1.75" fill="rgba(255,255,255,0.4)" stroke="#dd4a42" stroke-width="0.55"/>
<line x1="396.41" y1="60.87" x2="399.91" y2="60.87" stroke="#dd4a42" stroke-width="0.45" />
<circle cx="398.78" cy="57.42" r="1.75" fill="rgba(255,255,255,0.4)" stroke="#dd4a42" stroke-width="0.55"/>
<line x1="397.03" y1="57.42" x2="400.53" y2="57.42" stroke="#dd4a42" stroke-width="0.45" />
<circle cx="399.4" cy="54.5" r="1.75" fill="rgba(255,255,255,0.4)" stroke="#dd4a42" stroke-width="0.55"/>
<line x1="397.65" y1="54.5" x2="401.15" y2="54.5" stroke="#dd4a42" stroke-width="0.45" />
<line x1="265.5" y1="14.5" x2="419.3" y2="14.5" stroke="#2a2a2a" stroke-width="1" />
<line x1="265.5" y1="141.5" x2="419.3" y2="141.5" stroke="#2a2a2a" stroke-width="1" />
<line x1="266" y1="14.5" x2="266" y2="141.5" stroke="#5a5a5a" stroke-width="1" />
<line x1="418.8" y1="14.5" x2="418.8" y2="141.5" stroke="#5a5a5a" stroke-width="1" />
<line x1="268.05" y1="141.5" x2="268.05" y2="137.9" stroke="#111" stroke-width="0.9" />
<line x1="268.05" y1="14.5" x2="268.05" y2="18.1" stroke="#111" stroke-width="0.9" />
<line x1="272.35" y1="141.5" x2="272.35" y2="139.5" stroke="#111" stroke-width="0.9" />
<line x1="272.35" y1="14.5" x2="272.35" y2="16.5" stroke="#111" stroke-width="0.9" />
<line x1="276.64" y1="141.5" x2="276.64" y2="139.5" stroke="#111" stroke-width="0.9" />
<line x1="276.64" y1="14.5" x2="276.64" y2="16.5" stroke="#111" stroke-width="0.9" />
<line x1="280.94" y1="141.5" x2="280.94" y2="139.5" stroke="#111" stroke-width="0.9" />
<line x1="280.94" y1="14.5" x2="280.94" y2="16.5" stroke="#111" stroke-width="0.9" />
<line x1="285.24" y1="141.5" x2="285.24" y2="139.5" stroke="#111" stroke-width="0.9" />
<line x1="285.24" y1="14.5" x2="285.24" y2="16.5" stroke="#111" stroke-width="0.9" />
<line x1="289.54" y1="141.5" x2="289.54" y2="137.9" stroke="#111" stroke-width="0.9" />
<line x1="289.54" y1="14.5" x2="289.54" y2="18.1" stroke="#111" stroke-width="0.9" />
<line x1="293.83" y1="141.5" x2="293.83" y2="139.5" stroke="#111" stroke-width="0.9" />
<line x1="293.83" y1="14.5" x2="293.83" y2="16.5" stroke="#111" stroke-width="0.9" />
<line x1="298.13" y1="141.5" x2="298.13" y2="139.5" stroke="#111" stroke-width="0.9" />
<line x1="298.13" y1="14.5" x2="298.13" y2="16.5" stroke="#111" stroke-width="0.9" />
<line x1="302.43" y1="141.5" x2="302.43" y2="139.5" stroke="#111" stroke-width="0.9" />
<line x1="302.43" y1="14.5" x2="302.43" y2="16.5" stroke="#111" stroke-width="0.9" />
<line x1="306.72" y1="141.5" x2="306.72" y2="139.5" stroke="#111" stroke-width="0.9" />
<line x1="306.72" y1="14.5" x2="306.72" y2="16.5" stroke="#111" stroke-width="0.9" />
<line x1="311.02" y1="141.5" x2="311.02" y2="137.9" stroke="#111" stroke-width="0.9" />
<line x1="311.02" y1="14.5" x2="311.02" y2="18.1" stroke="#111" stroke-width="0.9" />
<line x1="315.32" y1="141.5" x2="315.32" y2="139.5" stroke="#111" stroke-width="0.9" />
<line x1="315.32" y1="14.5" x2="315.32" y2="16.5" stroke="#111" stroke-width="0.9" />
<line x1="319.61" y1="141.5" x2="319.61" y2="139.5" stroke="#111" stroke-width="0.9" />
<line x1="319.61" y1="14.5" x2="319.61" y2="16.5" stroke="#111" stroke-width="0.9" />
<line x1="323.91" y1="141.5" x2="323.91" y2="139.5" stroke="#111" stroke-width="0.9" />
<line x1="323.91" y1="14.5" x2="323.91" y2="16.5" stroke="#111" stroke-width="0.9" />
<line x1="328.21" y1="141.5" x2="328.21" y2="139.5" stroke="#111" stroke-width="0.9" />
<line x1="328.21" y1="14.5" x2="328.21" y2="16.5" stroke="#111" stroke-width="0.9" />
<line x1="332.5" y1="141.5" x2="332.5" y2="137.9" stroke="#111" stroke-width="0.9" />
<line x1="332.5" y1="14.5" x2="332.5" y2="18.1" stroke="#111" stroke-width="0.9" />
<line x1="336.8" y1="141.5" x2="336.8" y2="139.5" stroke="#111" stroke-width="0.9" />
<line x1="336.8" y1="14.5" x2="336.8" y2="16.5" stroke="#111" stroke-width="0.9" />
<line x1="341.1" y1="141.5" x2="341.1" y2="139.5" stroke="#111" stroke-width="0.9" />
<line x1="341.1" y1="14.5" x2="341.1" y2="16.5" stroke="#111" stroke-width="0.9" />
<line x1="345.4" y1="141.5" x2="345.4" y2="139.5" stroke="#111" stroke-width="0.9" />
<line x1="345.4" y1="14.5" x2="345.4" y2="16.5" stroke="#111" stroke-width="0.9" />
<line x1="349.69" y1="141.5" x2="349.69" y2="139.5" stroke="#111" stroke-width="0.9" />
<line x1="349.69" y1="14.5" x2="349.69" y2="16.5" stroke="#111" stroke-width="0.9" />
<line x1="353.99" y1="141.5" x2="353.99" y2="137.9" stroke="#111" stroke-width="0.9" />
<line x1="353.99" y1="14.5" x2="353.99" y2="18.1" stroke="#111" stroke-width="0.9" />
<line x1="358.29" y1="141.5" x2="358.29" y2="139.5" stroke="#111" stroke-width="0.9" />
<line x1="358.29" y1="14.5" x2="358.29" y2="16.5" stroke="#111" stroke-width="0.9" />
<line x1="362.58" y1="141.5" x2="362.58" y2="139.5" stroke="#111" stroke-width="0.9" />
<line x1="362.58" y1="14.5" x2="362.58" y2="16.5" stroke="#111" stroke-width="0.9" />
<line x1="366.88" y1="141.5" x2="366.88" y2="139.5" stroke="#111" stroke-width="0.9" />
<line x1="366.88" y1="14.5" x2="366.88" y2="16.5" stroke="#111" stroke-width="0.9" />
<line x1="371.18" y1="141.5" x2="371.18" y2="139.5" stroke="#111" stroke-width="0.9" />
<line x1="371.18" y1="14.5" x2="371.18" y2="16.5" stroke="#111" stroke-width="0.9" />
<line x1="375.48" y1="141.5" x2="375.48" y2="137.9" stroke="#111" stroke-width="0.9" />
<line x1="375.48" y1="14.5" x2="375.48" y2="18.1" stroke="#111" stroke-width="0.9" />
<line x1="379.77" y1="141.5" x2="379.77" y2="139.5" stroke="#111" stroke-width="0.9" />
<line x1="379.77" y1="14.5" x2="379.77" y2="16.5" stroke="#111" stroke-width="0.9" />
<line x1="384.07" y1="141.5" x2="384.07" y2="139.5" stroke="#111" stroke-width="0.9" />
<line x1="384.07" y1="14.5" x2="384.07" y2="16.5" stroke="#111" stroke-width="0.9" />
<line x1="388.37" y1="141.5" x2="388.37" y2="139.5" stroke="#111" stroke-width="0.9" />
<line x1="388.37" y1="14.5" x2="388.37" y2="16.5" stroke="#111" stroke-width="0.9" />
<line x1="392.66" y1="141.5" x2="392.66" y2="139.5" stroke="#111" stroke-width="0.9" />
<line x1="392.66" y1="14.5" x2="392.66" y2="16.5" stroke="#111" stroke-width="0.9" />
<line x1="396.96" y1="141.5" x2="396.96" y2="137.9" stroke="#111" stroke-width="0.9" />
<line x1="396.96" y1="14.5" x2="396.96" y2="18.1" stroke="#111" stroke-width="0.9" />
<line x1="401.26" y1="141.5" x2="401.26" y2="139.5" stroke="#111" stroke-width="0.9" />
<line x1="401.26" y1="14.5" x2="401.26" y2="16.5" stroke="#111" stroke-width="0.9" />
<line x1="405.55" y1="141.5" x2="405.55" y2="139.5" stroke="#111" stroke-width="0.9" />
<line x1="405.55" y1="14.5" x2="405.55" y2="16.5" stroke="#111" stroke-width="0.9" />
<line x1="409.85" y1="141.5" x2="409.85" y2="139.5" stroke="#111" stroke-width="0.9" />
<line x1="409.85" y1="14.5" x2="409.85" y2="16.5" stroke="#111" stroke-width="0.9" />
<line x1="414.15" y1="141.5" x2="414.15" y2="139.5" stroke="#111" stroke-width="0.9" />
<line x1="414.15" y1="14.5" x2="414.15" y2="16.5" stroke="#111" stroke-width="0.9" />
<line x1="418.45" y1="141.5" x2="418.45" y2="137.9" stroke="#111" stroke-width="0.9" />
<line x1="418.45" y1="14.5" x2="418.45" y2="18.1" stroke="#111" stroke-width="0.9" />
<line x1="266" y1="141.4" x2="269.6" y2="141.4" stroke="#111" stroke-width="0.9" />
<line x1="418.8" y1="141.4" x2="415.2" y2="141.4" stroke="#111" stroke-width="0.9" />
<line x1="266" y1="136.33" x2="268" y2="136.33" stroke="#111" stroke-width="0.9" />
<line x1="418.8" y1="136.33" x2="416.8" y2="136.33" stroke="#111" stroke-width="0.9" />
<line x1="266" y1="131.26" x2="268" y2="131.26" stroke="#111" stroke-width="0.9" />
<line x1="418.8" y1="131.26" x2="416.8" y2="131.26" stroke="#111" stroke-width="0.9" />
<line x1="266" y1="126.18" x2="268" y2="126.18" stroke="#111" stroke-width="0.9" />
<line x1="418.8" y1="126.18" x2="416.8" y2="126.18" stroke="#111" stroke-width="0.9" />
<line x1="266" y1="121.11" x2="268" y2="121.11" stroke="#111" stroke-width="0.9" />
<line x1="418.8" y1="121.11" x2="416.8" y2="121.11" stroke="#111" stroke-width="0.9" />
<line x1="266" y1="116.04" x2="269.6" y2="116.04" stroke="#111" stroke-width="0.9" />
<line x1="418.8" y1="116.04" x2="415.2" y2="116.04" stroke="#111" stroke-width="0.9" />
<line x1="266" y1="110.97" x2="268" y2="110.97" stroke="#111" stroke-width="0.9" />
<line x1="418.8" y1="110.97" x2="416.8" y2="110.97" stroke="#111" stroke-width="0.9" />
<line x1="266" y1="105.9" x2="268" y2="105.9" stroke="#111" stroke-width="0.9" />
<line x1="418.8" y1="105.9" x2="416.8" y2="105.9" stroke="#111" stroke-width="0.9" />
<line x1="266" y1="100.82" x2="268" y2="100.82" stroke="#111" stroke-width="0.9" />
<line x1="418.8" y1="100.82" x2="416.8" y2="100.82" stroke="#111" stroke-width="0.9" />
<line x1="266" y1="95.75" x2="268" y2="95.75" stroke="#111" stroke-width="0.9" />
<line x1="418.8" y1="95.75" x2="416.8" y2="95.75" stroke="#111" stroke-width="0.9" />
<line x1="266" y1="90.68" x2="269.6" y2="90.68" stroke="#111" stroke-width="0.9" />
<line x1="418.8" y1="90.68" x2="415.2" y2="90.68" stroke="#111" stroke-width="0.9" />
<line x1="266" y1="85.61" x2="268" y2="85.61" stroke="#111" stroke-width="0.9" />
<line x1="418.8" y1="85.61" x2="416.8" y2="85.61" stroke="#111" stroke-width="0.9" />
<line x1="266" y1="80.54" x2="268" y2="80.54" stroke="#111" stroke-width="0.9" />
<line x1="418.8" y1="80.54" x2="416.8" y2="80.54" stroke="#111" stroke-width="0.9" />
<line x1="266" y1="75.46" x2="268" y2="75.46" stroke="#111" stroke-width="0.9" />
<line x1="418.8" y1="75.46" x2="416.8" y2="75.46" stroke="#111" stroke-width="0.9" />
<line x1="266" y1="70.39" x2="268" y2="70.39" stroke="#111" stroke-width="0.9" />
<line x1="418.8" y1="70.39" x2="416.8" y2="70.39" stroke="#111" stroke-width="0.9" />
<line x1="266" y1="65.32" x2="269.6" y2="65.32" stroke="#111" stroke-width="0.9" />
<line x1="418.8" y1="65.32" x2="415.2" y2="65.32" stroke="#111" stroke-width="0.9" />
<line x1="266" y1="60.25" x2="268" y2="60.25" stroke="#111" stroke-width="0.9" />
<line x1="418.8" y1="60.25" x2="416.8" y2="60.25" stroke="#111" stroke-width="0.9" />
<line x1="266" y1="55.18" x2="268" y2="55.18" stroke="#111" stroke-width="0.9" />
<line x1="418.8" y1="55.18" x2="416.8" y2="55.18" stroke="#111" stroke-width="0.9" />
<line x1="266" y1="50.1" x2="268" y2="50.1" stroke="#111" stroke-width="0.9" />
<line x1="418.8" y1="50.1" x2="416.8" y2="50.1" stroke="#111" stroke-width="0.9" />
<line x1="266" y1="45.03" x2="268" y2="45.03" stroke="#111" stroke-width="0.9" />
<line x1="418.8" y1="45.03" x2="416.8" y2="45.03" stroke="#111" stroke-width="0.9" />
<line x1="266" y1="39.96" x2="269.6" y2="39.96" stroke="#111" stroke-width="0.9" />
<line x1="418.8" y1="39.96" x2="415.2" y2="39.96" stroke="#111" stroke-width="0.9" />
<line x1="266" y1="34.89" x2="268" y2="34.89" stroke="#111" stroke-width="0.9" />
<line x1="418.8" y1="34.89" x2="416.8" y2="34.89" stroke="#111" stroke-width="0.9" />
<line x1="266" y1="29.82" x2="268" y2="29.82" stroke="#111" stroke-width="0.9" />
<line x1="418.8" y1="29.82" x2="416.8" y2="29.82" stroke="#111" stroke-width="0.9" />
<line x1="266" y1="24.74" x2="268" y2="24.74" stroke="#111" stroke-width="0.9" />
<line x1="418.8" y1="24.74" x2="416.8" y2="24.74" stroke="#111" stroke-width="0.9" />
<line x1="266" y1="19.67" x2="268" y2="19.67" stroke="#111" stroke-width="0.9" />
<line x1="418.8" y1="19.67" x2="416.8" y2="19.67" stroke="#111" stroke-width="0.9" />
<line x1="266" y1="14.6" x2="269.6" y2="14.6" stroke="#111" stroke-width="0.9" />
<line x1="418.8" y1="14.6" x2="415.2" y2="14.6" stroke="#111" stroke-width="0.9" />
<text x="268.05" y="153" font-size="10.4" fill="#000" text-anchor="middle" >0</text>
<text x="289.54" y="153" font-size="10.4" fill="#000" text-anchor="middle" >50</text>
<text x="311.02" y="153" font-size="10.4" fill="#000" text-anchor="middle" >100</text>
<text x="332.5" y="153" font-size="10.4" fill="#000" text-anchor="middle" >150</text>
<text x="353.99" y="153" font-size="10.4" fill="#000" text-anchor="middle" >200</text>
<text x="375.48" y="153" font-size="10.4" fill="#000" text-anchor="middle" >250</text>
<text x="396.96" y="153" font-size="10.4" fill="#000" text-anchor="middle" >300</text>
<text x="418.45" y="153" font-size="10.4" fill="#000" text-anchor="middle" >350</text>
<text x="262.4" y="144.7" font-size="10.4" fill="#000" text-anchor="end" >3.3</text>
<text x="262.4" y="119.34" font-size="10.4" fill="#000" text-anchor="end" >3.4</text>
<text x="262.4" y="93.98" font-size="10.4" fill="#000" text-anchor="end" >3.5</text>
<text x="262.4" y="68.62" font-size="10.4" fill="#000" text-anchor="end" >3.6</text>
<text x="262.4" y="43.26" font-size="10.4" fill="#000" text-anchor="end" >3.7</text>
<text x="262.4" y="17.9" font-size="10.4" fill="#000" text-anchor="end" >3.8</text>
<text x="345.2" y="166.6" font-size="12.4" fill="#000" text-anchor="middle" >Time / min</text>
<text transform="translate(239.4,75.8) rotate(-90)" font-size="12" text-anchor="middle"><tspan font-style="italic">d</tspan><tspan font-size="7.8" dy="3.0">001</tspan><tspan dy="-3.0" dx="0.8"> / Å</tspan></text>
<rect x="328.21" y="173.5" width="21.48" height="127" fill="#b8e3ef"/>
<text x="227" y="170.8" font-size="17" fill="#000" text-anchor="start" >c</text>
<polyline points="267.2,287.7 276.6,274 321.5,184.4 348.5,184.4 350.5,185.6 352.1,188 354.2,191.5 399.5,279.9" fill="none" stroke="#f07d1e" stroke-width="1.2" stroke-linejoin="round"/>
<polyline points="266.5,293.2 328.4,293.2 334.5,187.5 347.6,187.5 347.6,293.2 399.5,293.2" fill="none" stroke="#7c45c6" stroke-width="1.2" />
<line x1="331.9" y1="212.5" x2="314.62" y2="212.5" stroke="#7c45c6" stroke-width="0.9" />
<path d="M310.9,212.5 L317.1,210.8 L315.86,212.5 L317.1,214.2 Z" fill="#7c45c6"/>
<line x1="365.9" y1="211.9" x2="382.88" y2="211.9" stroke="#f07d1e" stroke-width="0.9" />
<path d="M386.6,211.9 L380.4,213.6 L381.64,211.9 L380.4,210.2 Z" fill="#f07d1e"/>
<line x1="265.5" y1="173.5" x2="419.3" y2="173.5" stroke="#2a2a2a" stroke-width="1" />
<line x1="265.5" y1="300.5" x2="419.3" y2="300.5" stroke="#2a2a2a" stroke-width="1" />
<line x1="266" y1="173.5" x2="266" y2="300.5" stroke="#7c45c6" stroke-width="1" />
<line x1="418.8" y1="173.5" x2="418.8" y2="300.5" stroke="#f07d1e" stroke-width="1" />
<line x1="268.05" y1="300.5" x2="268.05" y2="296.9" stroke="#111" stroke-width="0.9" />
<line x1="268.05" y1="173.5" x2="268.05" y2="177.1" stroke="#111" stroke-width="0.9" />
<line x1="272.35" y1="300.5" x2="272.35" y2="298.5" stroke="#111" stroke-width="0.9" />
<line x1="272.35" y1="173.5" x2="272.35" y2="175.5" stroke="#111" stroke-width="0.9" />
<line x1="276.64" y1="300.5" x2="276.64" y2="298.5" stroke="#111" stroke-width="0.9" />
<line x1="276.64" y1="173.5" x2="276.64" y2="175.5" stroke="#111" stroke-width="0.9" />
<line x1="280.94" y1="300.5" x2="280.94" y2="298.5" stroke="#111" stroke-width="0.9" />
<line x1="280.94" y1="173.5" x2="280.94" y2="175.5" stroke="#111" stroke-width="0.9" />
<line x1="285.24" y1="300.5" x2="285.24" y2="298.5" stroke="#111" stroke-width="0.9" />
<line x1="285.24" y1="173.5" x2="285.24" y2="175.5" stroke="#111" stroke-width="0.9" />
<line x1="289.54" y1="300.5" x2="289.54" y2="296.9" stroke="#111" stroke-width="0.9" />
<line x1="289.54" y1="173.5" x2="289.54" y2="177.1" stroke="#111" stroke-width="0.9" />
<line x1="293.83" y1="300.5" x2="293.83" y2="298.5" stroke="#111" stroke-width="0.9" />
<line x1="293.83" y1="173.5" x2="293.83" y2="175.5" stroke="#111" stroke-width="0.9" />
<line x1="298.13" y1="300.5" x2="298.13" y2="298.5" stroke="#111" stroke-width="0.9" />
<line x1="298.13" y1="173.5" x2="298.13" y2="175.5" stroke="#111" stroke-width="0.9" />
<line x1="302.43" y1="300.5" x2="302.43" y2="298.5" stroke="#111" stroke-width="0.9" />
<line x1="302.43" y1="173.5" x2="302.43" y2="175.5" stroke="#111" stroke-width="0.9" />
<line x1="306.72" y1="300.5" x2="306.72" y2="298.5" stroke="#111" stroke-width="0.9" />
<line x1="306.72" y1="173.5" x2="306.72" y2="175.5" stroke="#111" stroke-width="0.9" />
<line x1="311.02" y1="300.5" x2="311.02" y2="296.9" stroke="#111" stroke-width="0.9" />
<line x1="311.02" y1="173.5" x2="311.02" y2="177.1" stroke="#111" stroke-width="0.9" />
<line x1="315.32" y1="300.5" x2="315.32" y2="298.5" stroke="#111" stroke-width="0.9" />
<line x1="315.32" y1="173.5" x2="315.32" y2="175.5" stroke="#111" stroke-width="0.9" />
<line x1="319.61" y1="300.5" x2="319.61" y2="298.5" stroke="#111" stroke-width="0.9" />
<line x1="319.61" y1="173.5" x2="319.61" y2="175.5" stroke="#111" stroke-width="0.9" />
<line x1="323.91" y1="300.5" x2="323.91" y2="298.5" stroke="#111" stroke-width="0.9" />
<line x1="323.91" y1="173.5" x2="323.91" y2="175.5" stroke="#111" stroke-width="0.9" />
<line x1="328.21" y1="300.5" x2="328.21" y2="298.5" stroke="#111" stroke-width="0.9" />
<line x1="328.21" y1="173.5" x2="328.21" y2="175.5" stroke="#111" stroke-width="0.9" />
<line x1="332.5" y1="300.5" x2="332.5" y2="296.9" stroke="#111" stroke-width="0.9" />
<line x1="332.5" y1="173.5" x2="332.5" y2="177.1" stroke="#111" stroke-width="0.9" />
<line x1="336.8" y1="300.5" x2="336.8" y2="298.5" stroke="#111" stroke-width="0.9" />
<line x1="336.8" y1="173.5" x2="336.8" y2="175.5" stroke="#111" stroke-width="0.9" />
<line x1="341.1" y1="300.5" x2="341.1" y2="298.5" stroke="#111" stroke-width="0.9" />
<line x1="341.1" y1="173.5" x2="341.1" y2="175.5" stroke="#111" stroke-width="0.9" />
<line x1="345.4" y1="300.5" x2="345.4" y2="298.5" stroke="#111" stroke-width="0.9" />
<line x1="345.4" y1="173.5" x2="345.4" y2="175.5" stroke="#111" stroke-width="0.9" />
<line x1="349.69" y1="300.5" x2="349.69" y2="298.5" stroke="#111" stroke-width="0.9" />
<line x1="349.69" y1="173.5" x2="349.69" y2="175.5" stroke="#111" stroke-width="0.9" />
<line x1="353.99" y1="300.5" x2="353.99" y2="296.9" stroke="#111" stroke-width="0.9" />
<line x1="353.99" y1="173.5" x2="353.99" y2="177.1" stroke="#111" stroke-width="0.9" />
<line x1="358.29" y1="300.5" x2="358.29" y2="298.5" stroke="#111" stroke-width="0.9" />
<line x1="358.29" y1="173.5" x2="358.29" y2="175.5" stroke="#111" stroke-width="0.9" />
<line x1="362.58" y1="300.5" x2="362.58" y2="298.5" stroke="#111" stroke-width="0.9" />
<line x1="362.58" y1="173.5" x2="362.58" y2="175.5" stroke="#111" stroke-width="0.9" />
<line x1="366.88" y1="300.5" x2="366.88" y2="298.5" stroke="#111" stroke-width="0.9" />
<line x1="366.88" y1="173.5" x2="366.88" y2="175.5" stroke="#111" stroke-width="0.9" />
<line x1="371.18" y1="300.5" x2="371.18" y2="298.5" stroke="#111" stroke-width="0.9" />
<line x1="371.18" y1="173.5" x2="371.18" y2="175.5" stroke="#111" stroke-width="0.9" />
<line x1="375.48" y1="300.5" x2="375.48" y2="296.9" stroke="#111" stroke-width="0.9" />
<line x1="375.48" y1="173.5" x2="375.48" y2="177.1" stroke="#111" stroke-width="0.9" />
<line x1="379.77" y1="300.5" x2="379.77" y2="298.5" stroke="#111" stroke-width="0.9" />
<line x1="379.77" y1="173.5" x2="379.77" y2="175.5" stroke="#111" stroke-width="0.9" />
<line x1="384.07" y1="300.5" x2="384.07" y2="298.5" stroke="#111" stroke-width="0.9" />
<line x1="384.07" y1="173.5" x2="384.07" y2="175.5" stroke="#111" stroke-width="0.9" />
<line x1="388.37" y1="300.5" x2="388.37" y2="298.5" stroke="#111" stroke-width="0.9" />
<line x1="388.37" y1="173.5" x2="388.37" y2="175.5" stroke="#111" stroke-width="0.9" />
<line x1="392.66" y1="300.5" x2="392.66" y2="298.5" stroke="#111" stroke-width="0.9" />
<line x1="392.66" y1="173.5" x2="392.66" y2="175.5" stroke="#111" stroke-width="0.9" />
<line x1="396.96" y1="300.5" x2="396.96" y2="296.9" stroke="#111" stroke-width="0.9" />
<line x1="396.96" y1="173.5" x2="396.96" y2="177.1" stroke="#111" stroke-width="0.9" />
<line x1="401.26" y1="300.5" x2="401.26" y2="298.5" stroke="#111" stroke-width="0.9" />
<line x1="401.26" y1="173.5" x2="401.26" y2="175.5" stroke="#111" stroke-width="0.9" />
<line x1="405.55" y1="300.5" x2="405.55" y2="298.5" stroke="#111" stroke-width="0.9" />
<line x1="405.55" y1="173.5" x2="405.55" y2="175.5" stroke="#111" stroke-width="0.9" />
<line x1="409.85" y1="300.5" x2="409.85" y2="298.5" stroke="#111" stroke-width="0.9" />
<line x1="409.85" y1="173.5" x2="409.85" y2="175.5" stroke="#111" stroke-width="0.9" />
<line x1="414.15" y1="300.5" x2="414.15" y2="298.5" stroke="#111" stroke-width="0.9" />
<line x1="414.15" y1="173.5" x2="414.15" y2="175.5" stroke="#111" stroke-width="0.9" />
<line x1="418.45" y1="300.5" x2="418.45" y2="296.9" stroke="#111" stroke-width="0.9" />
<line x1="418.45" y1="173.5" x2="418.45" y2="177.1" stroke="#111" stroke-width="0.9" />
<line x1="266" y1="300.2" x2="269.6" y2="300.2" stroke="#7c45c6" stroke-width="0.9" />
<line x1="266" y1="294.56" x2="268" y2="294.56" stroke="#7c45c6" stroke-width="0.9" />
<line x1="266" y1="288.93" x2="268" y2="288.93" stroke="#7c45c6" stroke-width="0.9" />
<line x1="266" y1="283.29" x2="268" y2="283.29" stroke="#7c45c6" stroke-width="0.9" />
<line x1="266" y1="277.66" x2="268" y2="277.66" stroke="#7c45c6" stroke-width="0.9" />
<line x1="266" y1="272.02" x2="269.6" y2="272.02" stroke="#7c45c6" stroke-width="0.9" />
<line x1="266" y1="266.38" x2="268" y2="266.38" stroke="#7c45c6" stroke-width="0.9" />
<line x1="266" y1="260.75" x2="268" y2="260.75" stroke="#7c45c6" stroke-width="0.9" />
<line x1="266" y1="255.11" x2="268" y2="255.11" stroke="#7c45c6" stroke-width="0.9" />
<line x1="266" y1="249.48" x2="268" y2="249.48" stroke="#7c45c6" stroke-width="0.9" />
<line x1="266" y1="243.84" x2="269.6" y2="243.84" stroke="#7c45c6" stroke-width="0.9" />
<line x1="266" y1="238.2" x2="268" y2="238.2" stroke="#7c45c6" stroke-width="0.9" />
<line x1="266" y1="232.57" x2="268" y2="232.57" stroke="#7c45c6" stroke-width="0.9" />
<line x1="266" y1="226.93" x2="268" y2="226.93" stroke="#7c45c6" stroke-width="0.9" />
<line x1="266" y1="221.3" x2="268" y2="221.3" stroke="#7c45c6" stroke-width="0.9" />
<line x1="266" y1="215.66" x2="269.6" y2="215.66" stroke="#7c45c6" stroke-width="0.9" />
<line x1="266" y1="210.02" x2="268" y2="210.02" stroke="#7c45c6" stroke-width="0.9" />
<line x1="266" y1="204.39" x2="268" y2="204.39" stroke="#7c45c6" stroke-width="0.9" />
<line x1="266" y1="198.75" x2="268" y2="198.75" stroke="#7c45c6" stroke-width="0.9" />
<line x1="266" y1="193.12" x2="268" y2="193.12" stroke="#7c45c6" stroke-width="0.9" />
<line x1="266" y1="187.48" x2="269.6" y2="187.48" stroke="#7c45c6" stroke-width="0.9" />
<line x1="266" y1="181.84" x2="268" y2="181.84" stroke="#7c45c6" stroke-width="0.9" />
<line x1="266" y1="176.21" x2="268" y2="176.21" stroke="#7c45c6" stroke-width="0.9" />
<line x1="418.8" y1="300.2" x2="415.2" y2="300.2" stroke="#f07d1e" stroke-width="0.9" />
<line x1="418.8" y1="288.64" x2="416.8" y2="288.64" stroke="#f07d1e" stroke-width="0.9" />
<line x1="418.8" y1="277.08" x2="415.2" y2="277.08" stroke="#f07d1e" stroke-width="0.9" />
<line x1="418.8" y1="265.52" x2="416.8" y2="265.52" stroke="#f07d1e" stroke-width="0.9" />
<line x1="418.8" y1="253.96" x2="415.2" y2="253.96" stroke="#f07d1e" stroke-width="0.9" />
<line x1="418.8" y1="242.4" x2="416.8" y2="242.4" stroke="#f07d1e" stroke-width="0.9" />
<line x1="418.8" y1="230.84" x2="415.2" y2="230.84" stroke="#f07d1e" stroke-width="0.9" />
<line x1="418.8" y1="219.28" x2="416.8" y2="219.28" stroke="#f07d1e" stroke-width="0.9" />
<line x1="418.8" y1="207.72" x2="415.2" y2="207.72" stroke="#f07d1e" stroke-width="0.9" />
<line x1="418.8" y1="196.16" x2="416.8" y2="196.16" stroke="#f07d1e" stroke-width="0.9" />
<line x1="418.8" y1="184.6" x2="415.2" y2="184.6" stroke="#f07d1e" stroke-width="0.9" />
<line x1="418.8" y1="173.04" x2="416.8" y2="173.04" stroke="#f07d1e" stroke-width="0.9" />
<text x="268.05" y="311.6" font-size="10.4" fill="#000" text-anchor="middle" >0</text>
<text x="289.54" y="311.6" font-size="10.4" fill="#000" text-anchor="middle" >50</text>
<text x="311.02" y="311.6" font-size="10.4" fill="#000" text-anchor="middle" >100</text>
<text x="332.5" y="311.6" font-size="10.4" fill="#000" text-anchor="middle" >150</text>
<text x="353.99" y="311.6" font-size="10.4" fill="#000" text-anchor="middle" >200</text>
<text x="375.48" y="311.6" font-size="10.4" fill="#000" text-anchor="middle" >250</text>
<text x="396.96" y="311.6" font-size="10.4" fill="#000" text-anchor="middle" >300</text>
<text x="418.45" y="311.6" font-size="10.4" fill="#000" text-anchor="middle" >350</text>
<text x="261.8" y="303.5" font-size="10.4" fill="#7c45c6" text-anchor="end" >0</text>
<text x="261.8" y="275.32" font-size="10.4" fill="#7c45c6" text-anchor="end" >100</text>
<text x="261.8" y="247.14" font-size="10.4" fill="#7c45c6" text-anchor="end" >200</text>
<text x="261.8" y="218.96" font-size="10.4" fill="#7c45c6" text-anchor="end" >300</text>
<text x="261.8" y="190.78" font-size="10.4" fill="#7c45c6" text-anchor="end" >400</text>
<text x="421.8" y="303.9" font-size="10.4" fill="#f07d1e" text-anchor="start" >0</text>
<text x="421.8" y="280.78" font-size="10.4" fill="#f07d1e" text-anchor="start" >2</text>
<text x="421.8" y="257.66" font-size="10.4" fill="#f07d1e" text-anchor="start" >4</text>
<text x="421.8" y="234.54" font-size="10.4" fill="#f07d1e" text-anchor="start" >6</text>
<text x="421.8" y="211.42" font-size="10.4" fill="#f07d1e" text-anchor="start" >8</text>
<text x="421.8" y="188.3" font-size="10.4" fill="#f07d1e" text-anchor="start" >10</text>
<text x="348.7" y="324.7" font-size="12.4" fill="#000" text-anchor="middle" >Time / min</text>
<text transform="translate(240.6,238.1) rotate(-90)" font-size="12.5" fill="#7c45c6" text-anchor="middle">Temperature / <tspan font-size="8.5" dy="-3.2">o</tspan><tspan dy="3.2">C</tspan></text>
<text transform="translate(442.2,238.6) rotate(-90)" font-size="12.4" fill="#f07d1e" text-anchor="middle">Pressure / GPa</text>
<text x="449" y="13.4" font-size="17" fill="#000" text-anchor="start" >d</text>
<circle cx="495.37" cy="88.74" r="1.5" fill="rgba(255,255,255,0.25)" stroke="#de554c" stroke-width="0.45"/>
<circle cx="495.38" cy="89.73" r="1.5" fill="rgba(255,255,255,0.25)" stroke="#de554c" stroke-width="0.45"/>
<circle cx="495.9" cy="88.98" r="1.5" fill="rgba(255,255,255,0.25)" stroke="#de554c" stroke-width="0.45"/>
<circle cx="496.61" cy="86.35" r="1.5" fill="rgba(255,255,255,0.25)" stroke="#de554c" stroke-width="0.45"/>
<circle cx="496.7" cy="85.75" r="1.5" fill="rgba(255,255,255,0.25)" stroke="#de554c" stroke-width="0.45"/>
<circle cx="497.17" cy="84.96" r="1.5" fill="rgba(255,255,255,0.25)" stroke="#de554c" stroke-width="0.45"/>
<circle cx="497.47" cy="84.02" r="1.5" fill="rgba(255,255,255,0.25)" stroke="#de554c" stroke-width="0.45"/>
<circle cx="498.06" cy="82.62" r="1.5" fill="rgba(255,255,255,0.25)" stroke="#de554c" stroke-width="0.45"/>
<circle cx="498.11" cy="82.13" r="1.5" fill="rgba(255,255,255,0.25)" stroke="#de554c" stroke-width="0.45"/>
<circle cx="498.35" cy="79.88" r="1.5" fill="rgba(255,255,255,0.25)" stroke="#de554c" stroke-width="0.45"/>
<circle cx="499.15" cy="79.41" r="1.5" fill="rgba(255,255,255,0.25)" stroke="#de554c" stroke-width="0.45"/>
<circle cx="499.25" cy="76.9" r="1.5" fill="rgba(255,255,255,0.25)" stroke="#de554c" stroke-width="0.45"/>
<circle cx="499.53" cy="77.41" r="1.5" fill="rgba(255,255,255,0.25)" stroke="#de554c" stroke-width="0.45"/>
<circle cx="499.64" cy="76.43" r="1.5" fill="rgba(255,255,255,0.25)" stroke="#de554c" stroke-width="0.45"/>
<circle cx="500.37" cy="73.79" r="1.5" fill="rgba(255,255,255,0.25)" stroke="#de554c" stroke-width="0.45"/>
<circle cx="500.72" cy="73.84" r="1.5" fill="rgba(255,255,255,0.25)" stroke="#de554c" stroke-width="0.45"/>
<circle cx="501.11" cy="72.44" r="1.5" fill="rgba(255,255,255,0.25)" stroke="#de554c" stroke-width="0.45"/>
<circle cx="501.48" cy="72.44" r="1.5" fill="rgba(255,255,255,0.25)" stroke="#de554c" stroke-width="0.45"/>
<circle cx="501.43" cy="69.46" r="1.5" fill="rgba(255,255,255,0.25)" stroke="#de554c" stroke-width="0.45"/>
<circle cx="502.18" cy="70.9" r="1.5" fill="rgba(255,255,255,0.25)" stroke="#de554c" stroke-width="0.45"/>
<circle cx="502.28" cy="68.41" r="1.5" fill="rgba(255,255,255,0.25)" stroke="#de554c" stroke-width="0.45"/>
<circle cx="502.84" cy="67.11" r="1.5" fill="rgba(255,255,255,0.25)" stroke="#de554c" stroke-width="0.45"/>
<circle cx="503.06" cy="66.17" r="1.5" fill="rgba(255,255,255,0.25)" stroke="#de554c" stroke-width="0.45"/>
<circle cx="503.42" cy="66.04" r="1.5" fill="rgba(255,255,255,0.25)" stroke="#de554c" stroke-width="0.45"/>
<circle cx="503.73" cy="64.51" r="1.5" fill="rgba(255,255,255,0.25)" stroke="#de554c" stroke-width="0.45"/>
<circle cx="504.37" cy="62.62" r="1.5" fill="rgba(255,255,255,0.25)" stroke="#de554c" stroke-width="0.45"/>
<circle cx="504.61" cy="63.68" r="1.5" fill="rgba(255,255,255,0.25)" stroke="#de554c" stroke-width="0.45"/>
<circle cx="504.81" cy="61.33" r="1.5" fill="rgba(255,255,255,0.25)" stroke="#de554c" stroke-width="0.45"/>
<circle cx="505.46" cy="60.74" r="1.5" fill="rgba(255,255,255,0.25)" stroke="#de554c" stroke-width="0.45"/>
<circle cx="505.45" cy="60.74" r="1.5" fill="rgba(255,255,255,0.25)" stroke="#de554c" stroke-width="0.45"/>
<circle cx="506.11" cy="59.26" r="1.5" fill="rgba(255,255,255,0.25)" stroke="#de554c" stroke-width="0.45"/>
<circle cx="506.24" cy="59.35" r="1.5" fill="rgba(255,255,255,0.25)" stroke="#de554c" stroke-width="0.45"/>
<circle cx="506.9" cy="59.1" r="1.5" fill="rgba(255,255,255,0.25)" stroke="#de554c" stroke-width="0.45"/>
<circle cx="507.27" cy="57.79" r="1.5" fill="rgba(255,255,255,0.25)" stroke="#de554c" stroke-width="0.45"/>
<circle cx="507.32" cy="58.59" r="1.5" fill="rgba(255,255,255,0.25)" stroke="#de554c" stroke-width="0.45"/>
<circle cx="508" cy="57.48" r="1.5" fill="rgba(255,255,255,0.25)" stroke="#de554c" stroke-width="0.45"/>
<circle cx="507.96" cy="56" r="1.5" fill="rgba(255,255,255,0.25)" stroke="#de554c" stroke-width="0.45"/>
<circle cx="508.5" cy="55.82" r="1.5" fill="rgba(255,255,255,0.25)" stroke="#de554c" stroke-width="0.45"/>
<circle cx="509.02" cy="57.43" r="1.5" fill="rgba(255,255,255,0.25)" stroke="#de554c" stroke-width="0.45"/>
<circle cx="509.01" cy="55.65" r="1.5" fill="rgba(255,255,255,0.25)" stroke="#de554c" stroke-width="0.45"/>
<circle cx="509.74" cy="56.45" r="1.5" fill="rgba(255,255,255,0.25)" stroke="#de554c" stroke-width="0.45"/>
<circle cx="510.09" cy="55.41" r="1.5" fill="rgba(255,255,255,0.25)" stroke="#de554c" stroke-width="0.45"/>
<circle cx="510.04" cy="55.05" r="1.5" fill="rgba(255,255,255,0.25)" stroke="#de554c" stroke-width="0.45"/>
<circle cx="510.8" cy="54.78" r="1.5" fill="rgba(255,255,255,0.25)" stroke="#de554c" stroke-width="0.45"/>
<circle cx="510.89" cy="54.97" r="1.5" fill="rgba(255,255,255,0.25)" stroke="#de554c" stroke-width="0.45"/>
<circle cx="511.29" cy="54.74" r="1.5" fill="rgba(255,255,255,0.25)" stroke="#de554c" stroke-width="0.45"/>
<circle cx="511.94" cy="53.82" r="1.5" fill="rgba(255,255,255,0.25)" stroke="#de554c" stroke-width="0.45"/>
<circle cx="511.75" cy="55.81" r="1.5" fill="rgba(255,255,255,0.25)" stroke="#de554c" stroke-width="0.45"/>
<circle cx="512.63" cy="55.72" r="1.5" fill="rgba(255,255,255,0.25)" stroke="#de554c" stroke-width="0.45"/>
<circle cx="512.72" cy="55.63" r="1.5" fill="rgba(255,255,255,0.25)" stroke="#de554c" stroke-width="0.45"/>
<circle cx="513.37" cy="53.69" r="1.5" fill="rgba(255,255,255,0.25)" stroke="#de554c" stroke-width="0.45"/>
<circle cx="513.62" cy="55.51" r="1.5" fill="rgba(255,255,255,0.25)" stroke="#de554c" stroke-width="0.45"/>
<circle cx="513.93" cy="54.72" r="1.5" fill="rgba(255,255,255,0.25)" stroke="#de554c" stroke-width="0.45"/>
<circle cx="514.06" cy="54.33" r="1.5" fill="rgba(255,255,255,0.25)" stroke="#de554c" stroke-width="0.45"/>
<circle cx="514.38" cy="53.66" r="1.5" fill="rgba(255,255,255,0.25)" stroke="#de554c" stroke-width="0.45"/>
<circle cx="514.95" cy="54.37" r="1.5" fill="rgba(255,255,255,0.25)" stroke="#de554c" stroke-width="0.45"/>
<circle cx="515.44" cy="53.79" r="1.5" fill="rgba(255,255,255,0.25)" stroke="#de554c" stroke-width="0.45"/>
<circle cx="515.85" cy="55.71" r="1.5" fill="rgba(255,255,255,0.25)" stroke="#de554c" stroke-width="0.45"/>
<circle cx="516.22" cy="56.38" r="1.5" fill="rgba(255,255,255,0.25)" stroke="#de554c" stroke-width="0.45"/>
<circle cx="516.56" cy="55.58" r="1.5" fill="rgba(255,255,255,0.25)" stroke="#de554c" stroke-width="0.45"/>
<circle cx="516.39" cy="56.15" r="1.5" fill="rgba(255,255,255,0.25)" stroke="#de554c" stroke-width="0.45"/>
<circle cx="516.84" cy="55.11" r="1.5" fill="rgba(255,255,255,0.25)" stroke="#de554c" stroke-width="0.45"/>
<circle cx="517.49" cy="55.99" r="1.5" fill="rgba(255,255,255,0.25)" stroke="#de554c" stroke-width="0.45"/>
<circle cx="517.7" cy="57.41" r="1.5" fill="rgba(255,255,255,0.25)" stroke="#de554c" stroke-width="0.45"/>
<circle cx="518.17" cy="55.99" r="1.5" fill="rgba(255,255,255,0.25)" stroke="#de554c" stroke-width="0.45"/>
<circle cx="518.31" cy="57.7" r="1.5" fill="rgba(255,255,255,0.25)" stroke="#de554c" stroke-width="0.45"/>
<circle cx="518.8" cy="57.73" r="1.5" fill="rgba(255,255,255,0.25)" stroke="#de554c" stroke-width="0.45"/>
<circle cx="519.09" cy="56.35" r="1.5" fill="rgba(255,255,255,0.25)" stroke="#de554c" stroke-width="0.45"/>
<circle cx="519.55" cy="58.34" r="1.5" fill="rgba(255,255,255,0.25)" stroke="#de554c" stroke-width="0.45"/>
<circle cx="519.69" cy="58.52" r="1.5" fill="rgba(255,255,255,0.25)" stroke="#de554c" stroke-width="0.45"/>
<circle cx="520.5" cy="58.82" r="1.5" fill="rgba(255,255,255,0.25)" stroke="#de554c" stroke-width="0.45"/>
<circle cx="520.79" cy="56.83" r="1.5" fill="rgba(255,255,255,0.25)" stroke="#de554c" stroke-width="0.45"/>
<circle cx="521.03" cy="59.48" r="1.5" fill="rgba(255,255,255,0.25)" stroke="#de554c" stroke-width="0.45"/>
<circle cx="521.04" cy="58.05" r="1.5" fill="rgba(255,255,255,0.25)" stroke="#de554c" stroke-width="0.45"/>
<circle cx="521.53" cy="58.97" r="1.5" fill="rgba(255,255,255,0.25)" stroke="#de554c" stroke-width="0.45"/>
<circle cx="521.98" cy="59.03" r="1.5" fill="rgba(255,255,255,0.25)" stroke="#de554c" stroke-width="0.45"/>
<circle cx="522.55" cy="57.93" r="1.5" fill="rgba(255,255,255,0.25)" stroke="#de554c" stroke-width="0.45"/>
<circle cx="522.47" cy="58.49" r="1.5" fill="rgba(255,255,255,0.25)" stroke="#de554c" stroke-width="0.45"/>
<circle cx="522.87" cy="58.54" r="1.5" fill="rgba(255,255,255,0.25)" stroke="#de554c" stroke-width="0.45"/>
<circle cx="523.74" cy="60.95" r="1.5" fill="rgba(255,255,255,0.25)" stroke="#de554c" stroke-width="0.45"/>
<circle cx="523.56" cy="60.18" r="1.5" fill="rgba(255,255,255,0.25)" stroke="#de554c" stroke-width="0.45"/>
<circle cx="524.05" cy="59.86" r="1.5" fill="rgba(255,255,255,0.25)" stroke="#de554c" stroke-width="0.45"/>
<circle cx="524.43" cy="61.01" r="1.5" fill="rgba(255,255,255,0.25)" stroke="#de554c" stroke-width="0.45"/>
<circle cx="524.93" cy="60.42" r="1.5" fill="rgba(255,255,255,0.25)" stroke="#de554c" stroke-width="0.45"/>
<circle cx="525.05" cy="60.53" r="1.5" fill="rgba(255,255,255,0.25)" stroke="#de554c" stroke-width="0.45"/>
<circle cx="525.36" cy="61.31" r="1.5" fill="rgba(255,255,255,0.25)" stroke="#de554c" stroke-width="0.45"/>
<circle cx="526.07" cy="60.97" r="1.5" fill="rgba(255,255,255,0.25)" stroke="#de554c" stroke-width="0.45"/>
<circle cx="526.05" cy="60.55" r="1.5" fill="rgba(255,255,255,0.25)" stroke="#de554c" stroke-width="0.45"/>
<circle cx="526.58" cy="61.88" r="1.5" fill="rgba(255,255,255,0.25)" stroke="#de554c" stroke-width="0.45"/>
<circle cx="527.18" cy="61.4" r="1.5" fill="rgba(255,255,255,0.25)" stroke="#de554c" stroke-width="0.45"/>
<circle cx="527.55" cy="62.22" r="1.5" fill="rgba(255,255,255,0.25)" stroke="#de554c" stroke-width="0.45"/>
<circle cx="527.69" cy="61.67" r="1.5" fill="rgba(255,255,255,0.25)" stroke="#de554c" stroke-width="0.45"/>
<circle cx="528.08" cy="62.73" r="1.5" fill="rgba(255,255,255,0.25)" stroke="#de554c" stroke-width="0.45"/>
<circle cx="528.39" cy="62.85" r="1.5" fill="rgba(255,255,255,0.25)" stroke="#de554c" stroke-width="0.45"/>
<circle cx="528.77" cy="61.74" r="1.5" fill="rgba(255,255,255,0.25)" stroke="#de554c" stroke-width="0.45"/>
<circle cx="529.17" cy="63.15" r="1.5" fill="rgba(255,255,255,0.25)" stroke="#de554c" stroke-width="0.45"/>
<circle cx="529.25" cy="62.47" r="1.5" fill="rgba(255,255,255,0.25)" stroke="#de554c" stroke-width="0.45"/>
<circle cx="529.82" cy="63.68" r="1.5" fill="rgba(255,255,255,0.25)" stroke="#de554c" stroke-width="0.45"/>
<circle cx="530.48" cy="62.21" r="1.5" fill="rgba(255,255,255,0.25)" stroke="#de554c" stroke-width="0.45"/>
<circle cx="530.82" cy="63.31" r="1.5" fill="rgba(255,255,255,0.25)" stroke="#de554c" stroke-width="0.45"/>
<circle cx="530.79" cy="62.33" r="1.5" fill="rgba(255,255,255,0.25)" stroke="#de554c" stroke-width="0.45"/>
<circle cx="531.06" cy="63.25" r="1.5" fill="rgba(255,255,255,0.25)" stroke="#de554c" stroke-width="0.45"/>
<circle cx="531.74" cy="63.39" r="1.5" fill="rgba(255,255,255,0.25)" stroke="#de554c" stroke-width="0.45"/>
<circle cx="532.18" cy="62.72" r="1.5" fill="rgba(255,255,255,0.25)" stroke="#de554c" stroke-width="0.45"/>
<circle cx="532.5" cy="62.36" r="1.5" fill="rgba(255,255,255,0.25)" stroke="#de554c" stroke-width="0.45"/>
<circle cx="532.48" cy="62.37" r="1.5" fill="rgba(255,255,255,0.25)" stroke="#de554c" stroke-width="0.45"/>
<circle cx="532.77" cy="61.06" r="1.5" fill="rgba(255,255,255,0.25)" stroke="#de554c" stroke-width="0.45"/>
<circle cx="533.59" cy="60.72" r="1.5" fill="rgba(255,255,255,0.25)" stroke="#de554c" stroke-width="0.45"/>
<circle cx="533.54" cy="60.82" r="1.5" fill="rgba(255,255,255,0.25)" stroke="#de554c" stroke-width="0.45"/>
<circle cx="534.37" cy="61.05" r="1.5" fill="rgba(255,255,255,0.25)" stroke="#de554c" stroke-width="0.45"/>
<circle cx="534.21" cy="63.02" r="1.5" fill="rgba(255,255,255,0.25)" stroke="#de554c" stroke-width="0.45"/>
<circle cx="534.63" cy="63.15" r="1.5" fill="rgba(255,255,255,0.25)" stroke="#de554c" stroke-width="0.45"/>
<circle cx="535.31" cy="63.24" r="1.5" fill="rgba(255,255,255,0.25)" stroke="#de554c" stroke-width="0.45"/>
<circle cx="535.84" cy="62.64" r="1.5" fill="rgba(255,255,255,0.25)" stroke="#de554c" stroke-width="0.45"/>
<circle cx="536.1" cy="61.24" r="1.5" fill="rgba(255,255,255,0.25)" stroke="#de554c" stroke-width="0.45"/>
<circle cx="536.44" cy="62.69" r="1.5" fill="rgba(255,255,255,0.25)" stroke="#de554c" stroke-width="0.45"/>
<circle cx="536.76" cy="61.68" r="1.5" fill="rgba(255,255,255,0.25)" stroke="#de554c" stroke-width="0.45"/>
<circle cx="537.14" cy="64.11" r="1.5" fill="rgba(255,255,255,0.25)" stroke="#de554c" stroke-width="0.45"/>
<circle cx="537.08" cy="62.57" r="1.5" fill="rgba(255,255,255,0.25)" stroke="#de554c" stroke-width="0.45"/>
<circle cx="537.74" cy="64.42" r="1.5" fill="rgba(255,255,255,0.25)" stroke="#de554c" stroke-width="0.45"/>
<circle cx="537.91" cy="63.05" r="1.5" fill="rgba(255,255,255,0.25)" stroke="#de554c" stroke-width="0.45"/>
<circle cx="538.27" cy="64.71" r="1.5" fill="rgba(255,255,255,0.25)" stroke="#de554c" stroke-width="0.45"/>
<circle cx="538.92" cy="64.53" r="1.5" fill="rgba(255,255,255,0.25)" stroke="#de554c" stroke-width="0.45"/>
<circle cx="539.05" cy="64.98" r="1.5" fill="rgba(255,255,255,0.25)" stroke="#de554c" stroke-width="0.45"/>
<circle cx="539.4" cy="65.49" r="1.5" fill="rgba(255,255,255,0.25)" stroke="#de554c" stroke-width="0.45"/>
<circle cx="539.59" cy="66.16" r="1.5" fill="rgba(255,255,255,0.25)" stroke="#de554c" stroke-width="0.45"/>
<circle cx="540.48" cy="66.36" r="1.5" fill="rgba(255,255,255,0.25)" stroke="#de554c" stroke-width="0.45"/>
<circle cx="540.7" cy="66.1" r="1.5" fill="rgba(255,255,255,0.25)" stroke="#de554c" stroke-width="0.45"/>
<circle cx="541.02" cy="68.21" r="1.5" fill="rgba(255,255,255,0.25)" stroke="#de554c" stroke-width="0.45"/>
<circle cx="541.37" cy="68.33" r="1.5" fill="rgba(255,255,255,0.25)" stroke="#de554c" stroke-width="0.45"/>
<circle cx="541.61" cy="69.59" r="1.5" fill="rgba(255,255,255,0.25)" stroke="#de554c" stroke-width="0.45"/>
<circle cx="542.22" cy="69.12" r="1.5" fill="rgba(255,255,255,0.25)" stroke="#de554c" stroke-width="0.45"/>
<circle cx="542.09" cy="71.71" r="1.5" fill="rgba(255,255,255,0.25)" stroke="#de554c" stroke-width="0.45"/>
<circle cx="542.94" cy="71.97" r="1.5" fill="rgba(255,255,255,0.25)" stroke="#de554c" stroke-width="0.45"/>
<circle cx="543.01" cy="73.45" r="1.5" fill="rgba(255,255,255,0.25)" stroke="#de554c" stroke-width="0.45"/>
<circle cx="543.22" cy="73.09" r="1.5" fill="rgba(255,255,255,0.25)" stroke="#de554c" stroke-width="0.45"/>
<circle cx="543.58" cy="74.9" r="1.5" fill="rgba(255,255,255,0.25)" stroke="#de554c" stroke-width="0.45"/>
<circle cx="544.01" cy="74.82" r="1.5" fill="rgba(255,255,255,0.25)" stroke="#de554c" stroke-width="0.45"/>
<circle cx="544.59" cy="77.75" r="1.5" fill="rgba(255,255,255,0.25)" stroke="#de554c" stroke-width="0.45"/>
<circle cx="544.71" cy="77.84" r="1.5" fill="rgba(255,255,255,0.25)" stroke="#de554c" stroke-width="0.45"/>
<circle cx="545.13" cy="78.96" r="1.5" fill="rgba(255,255,255,0.25)" stroke="#de554c" stroke-width="0.45"/>
<circle cx="545.59" cy="78.03" r="1.5" fill="rgba(255,255,255,0.25)" stroke="#de554c" stroke-width="0.45"/>
<circle cx="545.73" cy="78.06" r="1.5" fill="rgba(255,255,255,0.25)" stroke="#de554c" stroke-width="0.45"/>
<circle cx="546.24" cy="79.78" r="1.5" fill="rgba(255,255,255,0.25)" stroke="#de554c" stroke-width="0.45"/>
<circle cx="546.42" cy="80.43" r="1.5" fill="rgba(255,255,255,0.25)" stroke="#de554c" stroke-width="0.45"/>
<circle cx="546.86" cy="82.3" r="1.5" fill="rgba(255,255,255,0.25)" stroke="#de554c" stroke-width="0.45"/>
<circle cx="547.11" cy="83.62" r="1.5" fill="rgba(255,255,255,0.25)" stroke="#de554c" stroke-width="0.45"/>
<circle cx="547.67" cy="83.24" r="1.5" fill="rgba(255,255,255,0.25)" stroke="#de554c" stroke-width="0.45"/>
<circle cx="548.02" cy="84.61" r="1.5" fill="rgba(255,255,255,0.25)" stroke="#de554c" stroke-width="0.45"/>
<circle cx="548.59" cy="84.55" r="1.5" fill="rgba(255,255,255,0.25)" stroke="#de554c" stroke-width="0.45"/>
<circle cx="548.74" cy="85.72" r="1.5" fill="rgba(255,255,255,0.25)" stroke="#de554c" stroke-width="0.45"/>
<circle cx="549.32" cy="85.53" r="1.5" fill="rgba(255,255,255,0.25)" stroke="#de554c" stroke-width="0.45"/>
<circle cx="549.6" cy="87.8" r="1.5" fill="rgba(255,255,255,0.25)" stroke="#de554c" stroke-width="0.45"/>
<circle cx="549.8" cy="86.45" r="1.5" fill="rgba(255,255,255,0.25)" stroke="#de554c" stroke-width="0.45"/>
<circle cx="550.02" cy="88.51" r="1.5" fill="rgba(255,255,255,0.25)" stroke="#de554c" stroke-width="0.45"/>
<circle cx="550.64" cy="89.88" r="1.5" fill="rgba(255,255,255,0.25)" stroke="#de554c" stroke-width="0.45"/>
<circle cx="551.1" cy="88.56" r="1.5" fill="rgba(255,255,255,0.25)" stroke="#de554c" stroke-width="0.45"/>
<circle cx="551.06" cy="89.3" r="1.5" fill="rgba(255,255,255,0.25)" stroke="#de554c" stroke-width="0.45"/>
<circle cx="551.41" cy="91.25" r="1.5" fill="rgba(255,255,255,0.25)" stroke="#de554c" stroke-width="0.45"/>
<circle cx="552.17" cy="92.49" r="1.5" fill="rgba(255,255,255,0.25)" stroke="#de554c" stroke-width="0.45"/>
<circle cx="552.17" cy="93.08" r="1.5" fill="rgba(255,255,255,0.25)" stroke="#de554c" stroke-width="0.45"/>
<circle cx="552.56" cy="92.54" r="1.5" fill="rgba(255,255,255,0.25)" stroke="#de554c" stroke-width="0.45"/>
<circle cx="553.16" cy="92.26" r="1.5" fill="rgba(255,255,255,0.25)" stroke="#de554c" stroke-width="0.45"/>
<circle cx="553.14" cy="94.57" r="1.5" fill="rgba(255,255,255,0.25)" stroke="#de554c" stroke-width="0.45"/>
<circle cx="553.61" cy="93.46" r="1.5" fill="rgba(255,255,255,0.25)" stroke="#de554c" stroke-width="0.45"/>
<circle cx="554.14" cy="94.58" r="1.5" fill="rgba(255,255,255,0.25)" stroke="#de554c" stroke-width="0.45"/>
<circle cx="554.16" cy="93.84" r="1.5" fill="rgba(255,255,255,0.25)" stroke="#de554c" stroke-width="0.45"/>
<circle cx="554.77" cy="94.49" r="1.5" fill="rgba(255,255,255,0.25)" stroke="#de554c" stroke-width="0.45"/>
<circle cx="554.99" cy="94.99" r="1.5" fill="rgba(255,255,255,0.25)" stroke="#de554c" stroke-width="0.45"/>
<circle cx="555.79" cy="94.67" r="1.5" fill="rgba(255,255,255,0.25)" stroke="#de554c" stroke-width="0.45"/>
<circle cx="555.9" cy="94.13" r="1.5" fill="rgba(255,255,255,0.25)" stroke="#de554c" stroke-width="0.45"/>
<circle cx="556.1" cy="95.88" r="1.5" fill="rgba(255,255,255,0.25)" stroke="#de554c" stroke-width="0.45"/>
<circle cx="556.36" cy="96.73" r="1.5" fill="rgba(255,255,255,0.25)" stroke="#de554c" stroke-width="0.45"/>
<circle cx="557.19" cy="94.74" r="1.5" fill="rgba(255,255,255,0.25)" stroke="#de554c" stroke-width="0.45"/>
<circle cx="557.57" cy="95.85" r="1.5" fill="rgba(255,255,255,0.25)" stroke="#de554c" stroke-width="0.45"/>
<circle cx="557.82" cy="97.29" r="1.5" fill="rgba(255,255,255,0.25)" stroke="#de554c" stroke-width="0.45"/>
<circle cx="557.89" cy="97.42" r="1.5" fill="rgba(255,255,255,0.25)" stroke="#de554c" stroke-width="0.45"/>
<circle cx="558.46" cy="98.15" r="1.5" fill="rgba(255,255,255,0.25)" stroke="#de554c" stroke-width="0.45"/>
<circle cx="558.59" cy="98.37" r="1.5" fill="rgba(255,255,255,0.25)" stroke="#de554c" stroke-width="0.45"/>
<circle cx="559.36" cy="98.5" r="1.5" fill="rgba(255,255,255,0.25)" stroke="#de554c" stroke-width="0.45"/>
<circle cx="559.46" cy="97.3" r="1.5" fill="rgba(255,255,255,0.25)" stroke="#de554c" stroke-width="0.45"/>
<circle cx="559.79" cy="98.33" r="1.5" fill="rgba(255,255,255,0.25)" stroke="#de554c" stroke-width="0.45"/>
<circle cx="560.28" cy="99.61" r="1.5" fill="rgba(255,255,255,0.25)" stroke="#de554c" stroke-width="0.45"/>
<circle cx="560.55" cy="98.58" r="1.5" fill="rgba(255,255,255,0.25)" stroke="#de554c" stroke-width="0.45"/>
<circle cx="560.95" cy="100.2" r="1.5" fill="rgba(255,255,255,0.25)" stroke="#de554c" stroke-width="0.45"/>
<circle cx="561.03" cy="101.28" r="1.5" fill="rgba(255,255,255,0.25)" stroke="#de554c" stroke-width="0.45"/>
<circle cx="561.67" cy="99.5" r="1.5" fill="rgba(255,255,255,0.25)" stroke="#de554c" stroke-width="0.45"/>
<circle cx="562.19" cy="99.91" r="1.5" fill="rgba(255,255,255,0.25)" stroke="#de554c" stroke-width="0.45"/>
<circle cx="562.19" cy="101.9" r="1.5" fill="rgba(255,255,255,0.25)" stroke="#de554c" stroke-width="0.45"/>
<circle cx="562.71" cy="101.8" r="1.5" fill="rgba(255,255,255,0.25)" stroke="#de554c" stroke-width="0.45"/>
<circle cx="563.09" cy="101.85" r="1.5" fill="rgba(255,255,255,0.25)" stroke="#de554c" stroke-width="0.45"/>
<circle cx="563.25" cy="101.3" r="1.5" fill="rgba(255,255,255,0.25)" stroke="#de554c" stroke-width="0.45"/>
<circle cx="563.46" cy="103.05" r="1.5" fill="rgba(255,255,255,0.25)" stroke="#de554c" stroke-width="0.45"/>
<circle cx="564.22" cy="102.8" r="1.5" fill="rgba(255,255,255,0.25)" stroke="#de554c" stroke-width="0.45"/>
<circle cx="564.57" cy="102.52" r="1.5" fill="rgba(255,255,255,0.25)" stroke="#de554c" stroke-width="0.45"/>
<circle cx="564.64" cy="102.83" r="1.5" fill="rgba(255,255,255,0.25)" stroke="#de554c" stroke-width="0.45"/>
<circle cx="565.36" cy="102.11" r="1.5" fill="rgba(255,255,255,0.25)" stroke="#de554c" stroke-width="0.45"/>
<circle cx="565.5" cy="102.92" r="1.5" fill="rgba(255,255,255,0.25)" stroke="#de554c" stroke-width="0.45"/>
<circle cx="566.02" cy="103.46" r="1.5" fill="rgba(255,255,255,0.25)" stroke="#de554c" stroke-width="0.45"/>
<circle cx="566.11" cy="103.84" r="1.5" fill="rgba(255,255,255,0.25)" stroke="#de554c" stroke-width="0.45"/>
<circle cx="566.59" cy="105.11" r="1.5" fill="rgba(255,255,255,0.25)" stroke="#de554c" stroke-width="0.45"/>
<circle cx="566.83" cy="105.55" r="1.5" fill="rgba(255,255,255,0.25)" stroke="#de554c" stroke-width="0.45"/>
<circle cx="567.05" cy="104.18" r="1.5" fill="rgba(255,255,255,0.25)" stroke="#de554c" stroke-width="0.45"/>
<circle cx="567.4" cy="103.97" r="1.5" fill="rgba(255,255,255,0.25)" stroke="#de554c" stroke-width="0.45"/>
<circle cx="568.16" cy="105.93" r="1.5" fill="rgba(255,255,255,0.25)" stroke="#de554c" stroke-width="0.45"/>
<circle cx="568.16" cy="104.66" r="1.5" fill="rgba(255,255,255,0.25)" stroke="#de554c" stroke-width="0.45"/>
<circle cx="568.65" cy="106.45" r="1.5" fill="rgba(255,255,255,0.25)" stroke="#de554c" stroke-width="0.45"/>
<circle cx="569.25" cy="106.67" r="1.5" fill="rgba(255,255,255,0.25)" stroke="#de554c" stroke-width="0.45"/>
<circle cx="569.47" cy="105.16" r="1.5" fill="rgba(255,255,255,0.25)" stroke="#de554c" stroke-width="0.45"/>
<circle cx="569.71" cy="105.47" r="1.5" fill="rgba(255,255,255,0.25)" stroke="#de554c" stroke-width="0.45"/>
<circle cx="570.15" cy="106.69" r="1.5" fill="rgba(255,255,255,0.25)" stroke="#de554c" stroke-width="0.45"/>
<circle cx="570.31" cy="105.97" r="1.5" fill="rgba(255,255,255,0.25)" stroke="#de554c" stroke-width="0.45"/>
<circle cx="571.01" cy="105.53" r="1.5" fill="rgba(255,255,255,0.25)" stroke="#de554c" stroke-width="0.45"/>
<circle cx="571.38" cy="108.12" r="1.5" fill="rgba(255,255,255,0.25)" stroke="#de554c" stroke-width="0.45"/>
<circle cx="571.82" cy="106.87" r="1.5" fill="rgba(255,255,255,0.25)" stroke="#de554c" stroke-width="0.45"/>
<circle cx="571.94" cy="107.6" r="1.5" fill="rgba(255,255,255,0.25)" stroke="#de554c" stroke-width="0.45"/>
<circle cx="572.35" cy="108.88" r="1.5" fill="rgba(255,255,255,0.25)" stroke="#de554c" stroke-width="0.45"/>
<circle cx="572.74" cy="107.15" r="1.5" fill="rgba(255,255,255,0.25)" stroke="#de554c" stroke-width="0.45"/>
<circle cx="573.2" cy="107.84" r="1.5" fill="rgba(255,255,255,0.25)" stroke="#de554c" stroke-width="0.45"/>
<circle cx="573.4" cy="108.7" r="1.5" fill="rgba(255,255,255,0.25)" stroke="#de554c" stroke-width="0.45"/>
<circle cx="573.39" cy="108.99" r="1.5" fill="rgba(255,255,255,0.25)" stroke="#de554c" stroke-width="0.45"/>
<circle cx="574.15" cy="108.39" r="1.5" fill="rgba(255,255,255,0.25)" stroke="#de554c" stroke-width="0.45"/>
<circle cx="574.42" cy="108.47" r="1.5" fill="rgba(255,255,255,0.25)" stroke="#de554c" stroke-width="0.45"/>
<circle cx="574.58" cy="108.84" r="1.5" fill="rgba(255,255,255,0.25)" stroke="#de554c" stroke-width="0.45"/>
<circle cx="574.84" cy="108.93" r="1.5" fill="rgba(255,255,255,0.25)" stroke="#de554c" stroke-width="0.45"/>
<circle cx="575.56" cy="108.95" r="1.5" fill="rgba(255,255,255,0.25)" stroke="#de554c" stroke-width="0.45"/>
<circle cx="575.87" cy="110.56" r="1.5" fill="rgba(255,255,255,0.25)" stroke="#de554c" stroke-width="0.45"/>
<circle cx="576.42" cy="108.43" r="1.5" fill="rgba(255,255,255,0.25)" stroke="#de554c" stroke-width="0.45"/>
<circle cx="576.72" cy="109.97" r="1.5" fill="rgba(255,255,255,0.25)" stroke="#de554c" stroke-width="0.45"/>
<circle cx="576.63" cy="109.41" r="1.5" fill="rgba(255,255,255,0.25)" stroke="#de554c" stroke-width="0.45"/>
<circle cx="588.8" cy="114.4" r="1.5" fill="rgba(255,255,255,0.25)" stroke="#de554c" stroke-width="0.45"/>
<circle cx="597.8" cy="118.6" r="1.5" fill="rgba(255,255,255,0.25)" stroke="#de554c" stroke-width="0.45"/>
<circle cx="600.3" cy="118" r="1.5" fill="rgba(255,255,255,0.25)" stroke="#de554c" stroke-width="0.45"/>
<circle cx="602.8" cy="118.4" r="1.5" fill="rgba(255,255,255,0.25)" stroke="#de554c" stroke-width="0.45"/>
<circle cx="606.84" cy="117.87" r="1.5" fill="rgba(255,255,255,0.25)" stroke="#de554c" stroke-width="0.45"/>
<circle cx="607.42" cy="119.85" r="1.5" fill="rgba(255,255,255,0.25)" stroke="#de554c" stroke-width="0.45"/>
<circle cx="607.69" cy="119.83" r="1.5" fill="rgba(255,255,255,0.25)" stroke="#de554c" stroke-width="0.45"/>
<circle cx="608.32" cy="118.32" r="1.5" fill="rgba(255,255,255,0.25)" stroke="#de554c" stroke-width="0.45"/>
<circle cx="608.81" cy="119.45" r="1.5" fill="rgba(255,255,255,0.25)" stroke="#de554c" stroke-width="0.45"/>
<circle cx="609.26" cy="119.82" r="1.5" fill="rgba(255,255,255,0.25)" stroke="#de554c" stroke-width="0.45"/>
<circle cx="609.54" cy="119.1" r="1.5" fill="rgba(255,255,255,0.25)" stroke="#de554c" stroke-width="0.45"/>
<circle cx="609.98" cy="120.51" r="1.5" fill="rgba(255,255,255,0.25)" stroke="#de554c" stroke-width="0.45"/>
<circle cx="610.42" cy="119.53" r="1.5" fill="rgba(255,255,255,0.25)" stroke="#de554c" stroke-width="0.45"/>
<circle cx="610.75" cy="119.74" r="1.5" fill="rgba(255,255,255,0.25)" stroke="#de554c" stroke-width="0.45"/>
<circle cx="610.77" cy="118.88" r="1.5" fill="rgba(255,255,255,0.25)" stroke="#de554c" stroke-width="0.45"/>
<circle cx="611.15" cy="119.35" r="1.5" fill="rgba(255,255,255,0.25)" stroke="#de554c" stroke-width="0.45"/>
<circle cx="611.6" cy="120.12" r="1.5" fill="rgba(255,255,255,0.25)" stroke="#de554c" stroke-width="0.45"/>
<circle cx="612.32" cy="120.33" r="1.5" fill="rgba(255,255,255,0.25)" stroke="#de554c" stroke-width="0.45"/>
<circle cx="612.55" cy="120.7" r="1.5" fill="rgba(255,255,255,0.25)" stroke="#de554c" stroke-width="0.45"/>
<circle cx="612.88" cy="120.41" r="1.5" fill="rgba(255,255,255,0.25)" stroke="#de554c" stroke-width="0.45"/>
<circle cx="613.55" cy="120.39" r="1.5" fill="rgba(255,255,255,0.25)" stroke="#de554c" stroke-width="0.45"/>
<circle cx="613.61" cy="121.61" r="1.5" fill="rgba(255,255,255,0.25)" stroke="#de554c" stroke-width="0.45"/>
<circle cx="614.33" cy="120.56" r="1.5" fill="rgba(255,255,255,0.25)" stroke="#de554c" stroke-width="0.45"/>
<circle cx="614.52" cy="121.03" r="1.5" fill="rgba(255,255,255,0.25)" stroke="#de554c" stroke-width="0.45"/>
<circle cx="615.06" cy="120.48" r="1.5" fill="rgba(255,255,255,0.25)" stroke="#de554c" stroke-width="0.45"/>
<circle cx="615.1" cy="120.57" r="1.5" fill="rgba(255,255,255,0.25)" stroke="#de554c" stroke-width="0.45"/>
<circle cx="615.97" cy="120.55" r="1.5" fill="rgba(255,255,255,0.25)" stroke="#de554c" stroke-width="0.45"/>
<circle cx="616.18" cy="120.78" r="1.5" fill="rgba(255,255,255,0.25)" stroke="#de554c" stroke-width="0.45"/>
<circle cx="616.43" cy="120.85" r="1.5" fill="rgba(255,255,255,0.25)" stroke="#de554c" stroke-width="0.45"/>
<circle cx="616.94" cy="120.96" r="1.5" fill="rgba(255,255,255,0.25)" stroke="#de554c" stroke-width="0.45"/>
<circle cx="617.12" cy="120.95" r="1.5" fill="rgba(255,255,255,0.25)" stroke="#de554c" stroke-width="0.45"/>
<circle cx="617.6" cy="121.91" r="1.5" fill="rgba(255,255,255,0.25)" stroke="#de554c" stroke-width="0.45"/>
<circle cx="617.94" cy="121" r="1.5" fill="rgba(255,255,255,0.25)" stroke="#de554c" stroke-width="0.45"/>
<circle cx="618.57" cy="121.97" r="1.5" fill="rgba(255,255,255,0.25)" stroke="#de554c" stroke-width="0.45"/>
<circle cx="619.12" cy="121.27" r="1.5" fill="rgba(255,255,255,0.25)" stroke="#de554c" stroke-width="0.45"/>
<circle cx="619.34" cy="122.11" r="1.5" fill="rgba(255,255,255,0.25)" stroke="#de554c" stroke-width="0.45"/>
<circle cx="619.52" cy="123.44" r="1.5" fill="rgba(255,255,255,0.25)" stroke="#de554c" stroke-width="0.45"/>
<circle cx="620.03" cy="121.61" r="1.5" fill="rgba(255,255,255,0.25)" stroke="#de554c" stroke-width="0.45"/>
<circle cx="620.58" cy="121.84" r="1.5" fill="rgba(255,255,255,0.25)" stroke="#de554c" stroke-width="0.45"/>
<circle cx="621.07" cy="122.32" r="1.5" fill="rgba(255,255,255,0.25)" stroke="#de554c" stroke-width="0.45"/>
<circle cx="621.17" cy="121.75" r="1.5" fill="rgba(255,255,255,0.25)" stroke="#de554c" stroke-width="0.45"/>
<circle cx="621.94" cy="122.33" r="1.5" fill="rgba(255,255,255,0.25)" stroke="#de554c" stroke-width="0.45"/>
<circle cx="622.37" cy="122.82" r="1.5" fill="rgba(255,255,255,0.25)" stroke="#de554c" stroke-width="0.45"/>
<circle cx="622.86" cy="122.54" r="1.5" fill="rgba(255,255,255,0.25)" stroke="#de554c" stroke-width="0.45"/>
<circle cx="622.85" cy="122.54" r="1.5" fill="rgba(255,255,255,0.25)" stroke="#de554c" stroke-width="0.45"/>
<circle cx="623.59" cy="123.42" r="1.5" fill="rgba(255,255,255,0.25)" stroke="#de554c" stroke-width="0.45"/>
<circle cx="623.71" cy="122.33" r="1.5" fill="rgba(255,255,255,0.25)" stroke="#de554c" stroke-width="0.45"/>
<circle cx="624.31" cy="124.33" r="1.5" fill="rgba(255,255,255,0.25)" stroke="#de554c" stroke-width="0.45"/>
<circle cx="624.66" cy="122.29" r="1.5" fill="rgba(255,255,255,0.25)" stroke="#de554c" stroke-width="0.45"/>
<circle cx="624.72" cy="122.56" r="1.5" fill="rgba(255,255,255,0.25)" stroke="#de554c" stroke-width="0.45"/>
<circle cx="625.2" cy="122.52" r="1.5" fill="rgba(255,255,255,0.25)" stroke="#de554c" stroke-width="0.45"/>
<circle cx="625.53" cy="123.96" r="1.5" fill="rgba(255,255,255,0.25)" stroke="#de554c" stroke-width="0.45"/>
<circle cx="626.44" cy="123.04" r="1.5" fill="rgba(255,255,255,0.25)" stroke="#de554c" stroke-width="0.45"/>
<circle cx="626.88" cy="123.73" r="1.5" fill="rgba(255,255,255,0.25)" stroke="#de554c" stroke-width="0.45"/>
<circle cx="627.18" cy="124.79" r="1.5" fill="rgba(255,255,255,0.25)" stroke="#de554c" stroke-width="0.45"/>
<circle cx="627.66" cy="122.94" r="1.5" fill="rgba(255,255,255,0.25)" stroke="#de554c" stroke-width="0.45"/>
<circle cx="627.68" cy="124.3" r="1.5" fill="rgba(255,255,255,0.25)" stroke="#de554c" stroke-width="0.45"/>
<circle cx="628.47" cy="123.26" r="1.5" fill="rgba(255,255,255,0.25)" stroke="#de554c" stroke-width="0.45"/>
<circle cx="628.48" cy="125.03" r="1.5" fill="rgba(255,255,255,0.25)" stroke="#de554c" stroke-width="0.45"/>
<circle cx="628.77" cy="124.12" r="1.5" fill="rgba(255,255,255,0.25)" stroke="#de554c" stroke-width="0.45"/>
<circle cx="629.3" cy="124.85" r="1.5" fill="rgba(255,255,255,0.25)" stroke="#de554c" stroke-width="0.45"/>
<circle cx="630.06" cy="123.84" r="1.5" fill="rgba(255,255,255,0.25)" stroke="#de554c" stroke-width="0.45"/>
<circle cx="630.34" cy="125.16" r="1.5" fill="rgba(255,255,255,0.25)" stroke="#de554c" stroke-width="0.45"/>
<circle cx="630.8" cy="124.86" r="1.5" fill="rgba(255,255,255,0.25)" stroke="#de554c" stroke-width="0.45"/>
<circle cx="631.25" cy="124.54" r="1.5" fill="rgba(255,255,255,0.25)" stroke="#de554c" stroke-width="0.45"/>
<circle cx="631.35" cy="124.34" r="1.5" fill="rgba(255,255,255,0.25)" stroke="#de554c" stroke-width="0.45"/>
<circle cx="631.97" cy="124.99" r="1.5" fill="rgba(255,255,255,0.25)" stroke="#de554c" stroke-width="0.45"/>
<circle cx="632.06" cy="124.41" r="1.5" fill="rgba(255,255,255,0.25)" stroke="#de554c" stroke-width="0.45"/>
<circle cx="632.73" cy="125.46" r="1.5" fill="rgba(255,255,255,0.25)" stroke="#de554c" stroke-width="0.45"/>
<circle cx="633.13" cy="125.08" r="1.5" fill="rgba(255,255,255,0.25)" stroke="#de554c" stroke-width="0.45"/>
<circle cx="633.39" cy="124.66" r="1.5" fill="rgba(255,255,255,0.25)" stroke="#de554c" stroke-width="0.45"/>
<circle cx="633.93" cy="124.47" r="1.5" fill="rgba(255,255,255,0.25)" stroke="#de554c" stroke-width="0.45"/>
<circle cx="634.18" cy="126.19" r="1.5" fill="rgba(255,255,255,0.25)" stroke="#de554c" stroke-width="0.45"/>
<circle cx="634.71" cy="124.83" r="1.5" fill="rgba(255,255,255,0.25)" stroke="#de554c" stroke-width="0.45"/>
<circle cx="634.84" cy="126.57" r="1.5" fill="rgba(255,255,255,0.25)" stroke="#de554c" stroke-width="0.45"/>
<circle cx="635.49" cy="126.74" r="1.5" fill="rgba(255,255,255,0.25)" stroke="#de554c" stroke-width="0.45"/>
<circle cx="636.02" cy="125.9" r="1.5" fill="rgba(255,255,255,0.25)" stroke="#de554c" stroke-width="0.45"/>
<circle cx="636.44" cy="126.62" r="1.5" fill="rgba(255,255,255,0.25)" stroke="#de554c" stroke-width="0.45"/>
<circle cx="636.5" cy="125.91" r="1.5" fill="rgba(255,255,255,0.25)" stroke="#de554c" stroke-width="0.45"/>
<line x1="538.1" y1="50.5" x2="538.1" y2="73.7" stroke="#e6766f" stroke-width="0.6" />
<line x1="539.5" y1="50.5" x2="539.5" y2="73.7" stroke="#e6766f" stroke-width="0.6" />
<line x1="536.6" y1="50.5" x2="541" y2="50.5" stroke="#e6766f" stroke-width="0.8" />
<line x1="536.6" y1="73.7" x2="541" y2="73.7" stroke="#e6766f" stroke-width="0.8" />
<line x1="575.5" y1="97.9" x2="575.5" y2="116.2" stroke="#e6766f" stroke-width="0.6" />
<line x1="576.9" y1="97.9" x2="576.9" y2="116.2" stroke="#e6766f" stroke-width="0.6" />
<line x1="574" y1="97.9" x2="578.4" y2="97.9" stroke="#e6766f" stroke-width="0.8" />
<line x1="574" y1="116.2" x2="578.4" y2="116.2" stroke="#e6766f" stroke-width="0.8" />
<line x1="602.1" y1="114.2" x2="602.1" y2="122.2" stroke="#e6766f" stroke-width="0.6" />
<line x1="603.5" y1="114.2" x2="603.5" y2="122.2" stroke="#e6766f" stroke-width="0.6" />
<line x1="600.6" y1="114.2" x2="605" y2="114.2" stroke="#e6766f" stroke-width="0.8" />
<line x1="600.6" y1="122.2" x2="605" y2="122.2" stroke="#e6766f" stroke-width="0.8" />
<polyline points="495.9,132.7 541.5,26 635.1,26 635.1,131.9 647.9,131.9" fill="none" stroke="#7c45c6" stroke-width="1.2" />
<line x1="539.9" y1="40" x2="557.18" y2="40" stroke="#7c45c6" stroke-width="0.9" />
<path d="M560.9,40 L554.7,41.7 L555.94,40 L554.7,38.3 Z" fill="#7c45c6"/>
<line x1="495.5" y1="11.9" x2="648.5" y2="11.9" stroke="#2a2a2a" stroke-width="1" />
<line x1="495.5" y1="138.5" x2="648.5" y2="138.5" stroke="#2a2a2a" stroke-width="1" />
<line x1="496" y1="11.9" x2="496" y2="138.5" stroke="#5a5a5a" stroke-width="1" />
<line x1="648" y1="11.9" x2="648" y2="138.5" stroke="#7c45c6" stroke-width="1" />
<line x1="495.9" y1="138.5" x2="495.9" y2="134.9" stroke="#111" stroke-width="0.9" />
<line x1="495.9" y1="11.9" x2="495.9" y2="15.5" stroke="#111" stroke-width="0.9" />
<line x1="501.98" y1="138.5" x2="501.98" y2="136.5" stroke="#111" stroke-width="0.9" />
<line x1="501.98" y1="11.9" x2="501.98" y2="13.9" stroke="#111" stroke-width="0.9" />
<line x1="508.06" y1="138.5" x2="508.06" y2="136.5" stroke="#111" stroke-width="0.9" />
<line x1="508.06" y1="11.9" x2="508.06" y2="13.9" stroke="#111" stroke-width="0.9" />
<line x1="514.14" y1="138.5" x2="514.14" y2="136.5" stroke="#111" stroke-width="0.9" />
<line x1="514.14" y1="11.9" x2="514.14" y2="13.9" stroke="#111" stroke-width="0.9" />
<line x1="520.22" y1="138.5" x2="520.22" y2="136.5" stroke="#111" stroke-width="0.9" />
<line x1="520.22" y1="11.9" x2="520.22" y2="13.9" stroke="#111" stroke-width="0.9" />
<line x1="526.3" y1="138.5" x2="526.3" y2="134.9" stroke="#111" stroke-width="0.9" />
<line x1="526.3" y1="11.9" x2="526.3" y2="15.5" stroke="#111" stroke-width="0.9" />
<line x1="532.38" y1="138.5" x2="532.38" y2="136.5" stroke="#111" stroke-width="0.9" />
<line x1="532.38" y1="11.9" x2="532.38" y2="13.9" stroke="#111" stroke-width="0.9" />
<line x1="538.46" y1="138.5" x2="538.46" y2="136.5" stroke="#111" stroke-width="0.9" />
<line x1="538.46" y1="11.9" x2="538.46" y2="13.9" stroke="#111" stroke-width="0.9" />
<line x1="544.54" y1="138.5" x2="544.54" y2="136.5" stroke="#111" stroke-width="0.9" />
<line x1="544.54" y1="11.9" x2="544.54" y2="13.9" stroke="#111" stroke-width="0.9" />
<line x1="550.62" y1="138.5" x2="550.62" y2="136.5" stroke="#111" stroke-width="0.9" />
<line x1="550.62" y1="11.9" x2="550.62" y2="13.9" stroke="#111" stroke-width="0.9" />
<line x1="556.7" y1="138.5" x2="556.7" y2="134.9" stroke="#111" stroke-width="0.9" />
<line x1="556.7" y1="11.9" x2="556.7" y2="15.5" stroke="#111" stroke-width="0.9" />
<line x1="562.78" y1="138.5" x2="562.78" y2="136.5" stroke="#111" stroke-width="0.9" />
<line x1="562.78" y1="11.9" x2="562.78" y2="13.9" stroke="#111" stroke-width="0.9" />
<line x1="568.86" y1="138.5" x2="568.86" y2="136.5" stroke="#111" stroke-width="0.9" />
<line x1="568.86" y1="11.9" x2="568.86" y2="13.9" stroke="#111" stroke-width="0.9" />
<line x1="574.94" y1="138.5" x2="574.94" y2="136.5" stroke="#111" stroke-width="0.9" />
<line x1="574.94" y1="11.9" x2="574.94" y2="13.9" stroke="#111" stroke-width="0.9" />
<line x1="581.02" y1="138.5" x2="581.02" y2="136.5" stroke="#111" stroke-width="0.9" />
<line x1="581.02" y1="11.9" x2="581.02" y2="13.9" stroke="#111" stroke-width="0.9" />
<line x1="587.1" y1="138.5" x2="587.1" y2="134.9" stroke="#111" stroke-width="0.9" />
<line x1="587.1" y1="11.9" x2="587.1" y2="15.5" stroke="#111" stroke-width="0.9" />
<line x1="593.18" y1="138.5" x2="593.18" y2="136.5" stroke="#111" stroke-width="0.9" />
<line x1="593.18" y1="11.9" x2="593.18" y2="13.9" stroke="#111" stroke-width="0.9" />
<line x1="599.26" y1="138.5" x2="599.26" y2="136.5" stroke="#111" stroke-width="0.9" />
<line x1="599.26" y1="11.9" x2="599.26" y2="13.9" stroke="#111" stroke-width="0.9" />
<line x1="605.34" y1="138.5" x2="605.34" y2="136.5" stroke="#111" stroke-width="0.9" />
<line x1="605.34" y1="11.9" x2="605.34" y2="13.9" stroke="#111" stroke-width="0.9" />
<line x1="611.42" y1="138.5" x2="611.42" y2="136.5" stroke="#111" stroke-width="0.9" />
<line x1="611.42" y1="11.9" x2="611.42" y2="13.9" stroke="#111" stroke-width="0.9" />
<line x1="617.5" y1="138.5" x2="617.5" y2="134.9" stroke="#111" stroke-width="0.9" />
<line x1="617.5" y1="11.9" x2="617.5" y2="15.5" stroke="#111" stroke-width="0.9" />
<line x1="623.58" y1="138.5" x2="623.58" y2="136.5" stroke="#111" stroke-width="0.9" />
<line x1="623.58" y1="11.9" x2="623.58" y2="13.9" stroke="#111" stroke-width="0.9" />
<line x1="629.66" y1="138.5" x2="629.66" y2="136.5" stroke="#111" stroke-width="0.9" />
<line x1="629.66" y1="11.9" x2="629.66" y2="13.9" stroke="#111" stroke-width="0.9" />
<line x1="635.74" y1="138.5" x2="635.74" y2="136.5" stroke="#111" stroke-width="0.9" />
<line x1="635.74" y1="11.9" x2="635.74" y2="13.9" stroke="#111" stroke-width="0.9" />
<line x1="641.82" y1="138.5" x2="641.82" y2="136.5" stroke="#111" stroke-width="0.9" />
<line x1="641.82" y1="11.9" x2="641.82" y2="13.9" stroke="#111" stroke-width="0.9" />
<line x1="647.9" y1="138.5" x2="647.9" y2="134.9" stroke="#111" stroke-width="0.9" />
<line x1="647.9" y1="11.9" x2="647.9" y2="15.5" stroke="#111" stroke-width="0.9" />
<line x1="496" y1="138.3" x2="499.6" y2="138.3" stroke="#111" stroke-width="0.9" />
<line x1="496" y1="131.98" x2="498" y2="131.98" stroke="#111" stroke-width="0.9" />
<line x1="496" y1="125.66" x2="498" y2="125.66" stroke="#111" stroke-width="0.9" />
<line x1="496" y1="119.34" x2="498" y2="119.34" stroke="#111" stroke-width="0.9" />
<line x1="496" y1="113.02" x2="498" y2="113.02" stroke="#111" stroke-width="0.9" />
<line x1="496" y1="106.7" x2="499.6" y2="106.7" stroke="#111" stroke-width="0.9" />
<line x1="496" y1="100.38" x2="498" y2="100.38" stroke="#111" stroke-width="0.9" />
<line x1="496" y1="94.06" x2="498" y2="94.06" stroke="#111" stroke-width="0.9" />
<line x1="496" y1="87.74" x2="498" y2="87.74" stroke="#111" stroke-width="0.9" />
<line x1="496" y1="81.42" x2="498" y2="81.42" stroke="#111" stroke-width="0.9" />
<line x1="496" y1="75.1" x2="499.6" y2="75.1" stroke="#111" stroke-width="0.9" />
<line x1="496" y1="68.78" x2="498" y2="68.78" stroke="#111" stroke-width="0.9" />
<line x1="496" y1="62.46" x2="498" y2="62.46" stroke="#111" stroke-width="0.9" />
<line x1="496" y1="56.14" x2="498" y2="56.14" stroke="#111" stroke-width="0.9" />
<line x1="496" y1="49.82" x2="498" y2="49.82" stroke="#111" stroke-width="0.9" />
<line x1="496" y1="43.5" x2="499.6" y2="43.5" stroke="#111" stroke-width="0.9" />
<line x1="496" y1="37.18" x2="498" y2="37.18" stroke="#111" stroke-width="0.9" />
<line x1="496" y1="30.86" x2="498" y2="30.86" stroke="#111" stroke-width="0.9" />
<line x1="496" y1="24.54" x2="498" y2="24.54" stroke="#111" stroke-width="0.9" />
<line x1="496" y1="18.22" x2="498" y2="18.22" stroke="#111" stroke-width="0.9" />
<line x1="496" y1="11.9" x2="499.6" y2="11.9" stroke="#111" stroke-width="0.9" />
<line x1="648" y1="138.3" x2="644.4" y2="138.3" stroke="#7c45c6" stroke-width="0.9" />
<line x1="648" y1="132.68" x2="646" y2="132.68" stroke="#7c45c6" stroke-width="0.9" />
<line x1="648" y1="127.06" x2="646" y2="127.06" stroke="#7c45c6" stroke-width="0.9" />
<line x1="648" y1="121.44" x2="646" y2="121.44" stroke="#7c45c6" stroke-width="0.9" />
<line x1="648" y1="115.82" x2="646" y2="115.82" stroke="#7c45c6" stroke-width="0.9" />
<line x1="648" y1="110.2" x2="644.4" y2="110.2" stroke="#7c45c6" stroke-width="0.9" />
<line x1="648" y1="104.58" x2="646" y2="104.58" stroke="#7c45c6" stroke-width="0.9" />
<line x1="648" y1="98.96" x2="646" y2="98.96" stroke="#7c45c6" stroke-width="0.9" />
<line x1="648" y1="93.34" x2="646" y2="93.34" stroke="#7c45c6" stroke-width="0.9" />
<line x1="648" y1="87.72" x2="646" y2="87.72" stroke="#7c45c6" stroke-width="0.9" />
<line x1="648" y1="82.1" x2="644.4" y2="82.1" stroke="#7c45c6" stroke-width="0.9" />
<line x1="648" y1="76.48" x2="646" y2="76.48" stroke="#7c45c6" stroke-width="0.9" />
<line x1="648" y1="70.86" x2="646" y2="70.86" stroke="#7c45c6" stroke-width="0.9" />
<line x1="648" y1="65.24" x2="646" y2="65.24" stroke="#7c45c6" stroke-width="0.9" />
<line x1="648" y1="59.62" x2="646" y2="59.62" stroke="#7c45c6" stroke-width="0.9" />
<line x1="648" y1="54" x2="644.4" y2="54" stroke="#7c45c6" stroke-width="0.9" />
<line x1="648" y1="48.38" x2="646" y2="48.38" stroke="#7c45c6" stroke-width="0.9" />
<line x1="648" y1="42.76" x2="646" y2="42.76" stroke="#7c45c6" stroke-width="0.9" />
<line x1="648" y1="37.14" x2="646" y2="37.14" stroke="#7c45c6" stroke-width="0.9" />
<line x1="648" y1="31.52" x2="646" y2="31.52" stroke="#7c45c6" stroke-width="0.9" />
<line x1="648" y1="25.9" x2="644.4" y2="25.9" stroke="#7c45c6" stroke-width="0.9" />
<line x1="648" y1="20.28" x2="646" y2="20.28" stroke="#7c45c6" stroke-width="0.9" />
<line x1="648" y1="14.66" x2="646" y2="14.66" stroke="#7c45c6" stroke-width="0.9" />
<text x="495.4" y="151.1" font-size="10.4" fill="#000" text-anchor="middle" >140</text>
<text x="525.8" y="151.1" font-size="10.4" fill="#000" text-anchor="middle" >150</text>
<text x="556.2" y="151.1" font-size="10.4" fill="#000" text-anchor="middle" >160</text>
<text x="586.6" y="151.1" font-size="10.4" fill="#000" text-anchor="middle" >170</text>
<text x="617" y="151.1" font-size="10.4" fill="#000" text-anchor="middle" >180</text>
<text x="647.4" y="151.1" font-size="10.4" fill="#000" text-anchor="middle" >190</text>
<text x="491.4" y="141.6" font-size="10.4" fill="#000" text-anchor="end" >3.41</text>
<text x="491.4" y="109.85" font-size="10.4" fill="#000" text-anchor="end" >3.42</text>
<text x="491.4" y="78.1" font-size="10.4" fill="#000" text-anchor="end" >3.43</text>
<text x="491.4" y="46.35" font-size="10.4" fill="#000" text-anchor="end" >3.44</text>
<text x="491.4" y="14.6" font-size="10.4" fill="#000" text-anchor="end" >3.45</text>
<text x="651.4" y="141.9" font-size="10.4" fill="#7c45c6" text-anchor="start" >0</text>
<text x="651.4" y="113.7" font-size="10.4" fill="#7c45c6" text-anchor="start" >100</text>
<text x="651.4" y="85.5" font-size="10.4" fill="#7c45c6" text-anchor="start" >200</text>
<text x="651.4" y="57.3" font-size="10.4" fill="#7c45c6" text-anchor="start" >300</text>
<text x="651.4" y="29.1" font-size="10.4" fill="#7c45c6" text-anchor="start" >400</text>
<text x="575.8" y="165.1" font-size="12.4" fill="#000" text-anchor="middle" >Time / min</text>
<text transform="translate(469.2,76) rotate(-90)" font-size="12" text-anchor="middle"><tspan font-style="italic">d</tspan><tspan font-size="7.8" dy="3.0">001</tspan><tspan dy="-3.0" dx="0.8"> / Å</tspan></text>
<text transform="translate(682.2,76.5) rotate(-90)" font-size="12.5" fill="#7c45c6" text-anchor="middle">Temperature / <tspan font-size="8.5" dy="-3.2">o</tspan><tspan dy="3.2">C</tspan></text>
<text x="446" y="171.4" font-size="17" fill="#000" text-anchor="start" >e</text>
<circle cx="521.7" cy="210.5" r="1.65" fill="rgba(242,175,175,0.3)" stroke="#ea8a86" stroke-width="0.55"/>
<line x1="520.05" y1="210.5" x2="523.35" y2="210.5" stroke="#ea8a86" stroke-width="0.45" />
<circle cx="522.55" cy="212.65" r="1.65" fill="rgba(242,175,175,0.3)" stroke="#ea8a86" stroke-width="0.55"/>
<line x1="520.9" y1="212.65" x2="524.2" y2="212.65" stroke="#ea8a86" stroke-width="0.45" />
<circle cx="523.4" cy="214.8" r="1.65" fill="rgba(242,175,175,0.3)" stroke="#ea8a86" stroke-width="0.55"/>
<line x1="521.75" y1="214.8" x2="525.05" y2="214.8" stroke="#ea8a86" stroke-width="0.45" />
<circle cx="524.57" cy="216.8" r="1.65" fill="rgba(242,175,175,0.3)" stroke="#ea8a86" stroke-width="0.55"/>
<line x1="522.92" y1="216.8" x2="526.22" y2="216.8" stroke="#ea8a86" stroke-width="0.45" />
<circle cx="525.76" cy="218.79" r="1.65" fill="rgba(242,175,175,0.3)" stroke="#ea8a86" stroke-width="0.55"/>
<line x1="524.11" y1="218.79" x2="527.41" y2="218.79" stroke="#ea8a86" stroke-width="0.45" />
<circle cx="527.03" cy="220.72" r="1.65" fill="rgba(242,175,175,0.3)" stroke="#ea8a86" stroke-width="0.55"/>
<line x1="525.38" y1="220.72" x2="528.68" y2="220.72" stroke="#ea8a86" stroke-width="0.45" />
<circle cx="528.35" cy="222.62" r="1.65" fill="rgba(242,175,175,0.3)" stroke="#ea8a86" stroke-width="0.55"/>
<line x1="526.7" y1="222.62" x2="530" y2="222.62" stroke="#ea8a86" stroke-width="0.45" />
<circle cx="529.71" cy="224.49" r="1.65" fill="rgba(242,175,175,0.3)" stroke="#ea8a86" stroke-width="0.55"/>
<line x1="528.06" y1="224.49" x2="531.36" y2="224.49" stroke="#ea8a86" stroke-width="0.45" />
<circle cx="531.3" cy="226.16" r="1.65" fill="rgba(242,175,175,0.3)" stroke="#ea8a86" stroke-width="0.55"/>
<line x1="529.65" y1="226.16" x2="532.95" y2="226.16" stroke="#ea8a86" stroke-width="0.45" />
<circle cx="533.06" cy="227.66" r="1.65" fill="rgba(242,175,175,0.3)" stroke="#ea8a86" stroke-width="0.55"/>
<line x1="531.41" y1="227.66" x2="534.71" y2="227.66" stroke="#ea8a86" stroke-width="0.45" />
<circle cx="534.99" cy="228.91" r="1.65" fill="rgba(242,175,175,0.3)" stroke="#ea8a86" stroke-width="0.55"/>
<line x1="533.34" y1="228.91" x2="536.64" y2="228.91" stroke="#ea8a86" stroke-width="0.45" />
<circle cx="537.05" cy="229.96" r="1.65" fill="rgba(242,175,175,0.3)" stroke="#ea8a86" stroke-width="0.55"/>
<line x1="535.4" y1="229.96" x2="538.7" y2="229.96" stroke="#ea8a86" stroke-width="0.45" />
<circle cx="539.05" cy="231.12" r="1.65" fill="rgba(242,175,175,0.3)" stroke="#ea8a86" stroke-width="0.55"/>
<line x1="537.4" y1="231.12" x2="540.7" y2="231.12" stroke="#ea8a86" stroke-width="0.45" />
<circle cx="541.01" cy="232.35" r="1.65" fill="rgba(242,175,175,0.3)" stroke="#ea8a86" stroke-width="0.55"/>
<line x1="539.36" y1="232.35" x2="542.66" y2="232.35" stroke="#ea8a86" stroke-width="0.45" />
<circle cx="542.81" cy="233.8" r="1.65" fill="rgba(242,175,175,0.3)" stroke="#ea8a86" stroke-width="0.55"/>
<line x1="541.16" y1="233.8" x2="544.46" y2="233.8" stroke="#ea8a86" stroke-width="0.45" />
<circle cx="544.57" cy="235.3" r="1.65" fill="rgba(242,175,175,0.3)" stroke="#ea8a86" stroke-width="0.55"/>
<line x1="542.92" y1="235.3" x2="546.22" y2="235.3" stroke="#ea8a86" stroke-width="0.45" />
<circle cx="546.33" cy="236.81" r="1.65" fill="rgba(242,175,175,0.3)" stroke="#ea8a86" stroke-width="0.55"/>
<line x1="544.68" y1="236.81" x2="547.98" y2="236.81" stroke="#ea8a86" stroke-width="0.45" />
<circle cx="548.08" cy="238.32" r="1.65" fill="rgba(242,175,175,0.3)" stroke="#ea8a86" stroke-width="0.55"/>
<line x1="546.43" y1="238.32" x2="549.73" y2="238.32" stroke="#ea8a86" stroke-width="0.45" />
<circle cx="549.84" cy="239.82" r="1.65" fill="rgba(242,175,175,0.3)" stroke="#ea8a86" stroke-width="0.55"/>
<line x1="548.19" y1="239.82" x2="551.49" y2="239.82" stroke="#ea8a86" stroke-width="0.45" />
<circle cx="551.56" cy="241.37" r="1.65" fill="rgba(242,175,175,0.3)" stroke="#ea8a86" stroke-width="0.55"/>
<line x1="549.91" y1="241.37" x2="553.21" y2="241.37" stroke="#ea8a86" stroke-width="0.45" />
<circle cx="553.32" cy="242.87" r="1.65" fill="rgba(242,175,175,0.3)" stroke="#ea8a86" stroke-width="0.55"/>
<line x1="551.67" y1="242.87" x2="554.97" y2="242.87" stroke="#ea8a86" stroke-width="0.45" />
<circle cx="555.17" cy="244.27" r="1.65" fill="rgba(242,175,175,0.3)" stroke="#ea8a86" stroke-width="0.55"/>
<line x1="553.52" y1="244.27" x2="556.82" y2="244.27" stroke="#ea8a86" stroke-width="0.45" />
<circle cx="557.01" cy="245.66" r="1.65" fill="rgba(242,175,175,0.3)" stroke="#ea8a86" stroke-width="0.55"/>
<line x1="555.36" y1="245.66" x2="558.66" y2="245.66" stroke="#ea8a86" stroke-width="0.45" />
<circle cx="558.86" cy="247.06" r="1.65" fill="rgba(242,175,175,0.3)" stroke="#ea8a86" stroke-width="0.55"/>
<line x1="557.21" y1="247.06" x2="560.51" y2="247.06" stroke="#ea8a86" stroke-width="0.45" />
<circle cx="560.8" cy="248.3" r="1.65" fill="rgba(242,175,175,0.3)" stroke="#ea8a86" stroke-width="0.55"/>
<line x1="559.15" y1="248.3" x2="562.45" y2="248.3" stroke="#ea8a86" stroke-width="0.45" />
<circle cx="562.84" cy="249.4" r="1.65" fill="rgba(242,175,175,0.3)" stroke="#ea8a86" stroke-width="0.55"/>
<line x1="561.19" y1="249.4" x2="564.49" y2="249.4" stroke="#ea8a86" stroke-width="0.45" />
<circle cx="564.87" cy="250.51" r="1.65" fill="rgba(242,175,175,0.3)" stroke="#ea8a86" stroke-width="0.55"/>
<line x1="563.22" y1="250.51" x2="566.52" y2="250.51" stroke="#ea8a86" stroke-width="0.45" />
<circle cx="566.87" cy="251.66" r="1.65" fill="rgba(242,175,175,0.3)" stroke="#ea8a86" stroke-width="0.55"/>
<line x1="565.22" y1="251.66" x2="568.52" y2="251.66" stroke="#ea8a86" stroke-width="0.45" />
<circle cx="568.56" cy="253.25" r="1.65" fill="rgba(242,175,175,0.3)" stroke="#ea8a86" stroke-width="0.55"/>
<line x1="566.91" y1="253.25" x2="570.21" y2="253.25" stroke="#ea8a86" stroke-width="0.45" />
<circle cx="570.3" cy="254.75" r="1.65" fill="rgba(242,175,175,0.3)" stroke="#ea8a86" stroke-width="0.55"/>
<line x1="568.65" y1="254.75" x2="571.95" y2="254.75" stroke="#ea8a86" stroke-width="0.45" />
<circle cx="572.37" cy="255.79" r="1.65" fill="rgba(242,175,175,0.3)" stroke="#ea8a86" stroke-width="0.55"/>
<line x1="570.72" y1="255.79" x2="574.02" y2="255.79" stroke="#ea8a86" stroke-width="0.45" />
<circle cx="574.44" cy="256.82" r="1.65" fill="rgba(242,175,175,0.3)" stroke="#ea8a86" stroke-width="0.55"/>
<line x1="572.79" y1="256.82" x2="576.09" y2="256.82" stroke="#ea8a86" stroke-width="0.45" />
<circle cx="576.51" cy="257.86" r="1.65" fill="rgba(242,175,175,0.3)" stroke="#ea8a86" stroke-width="0.55"/>
<line x1="574.86" y1="257.86" x2="578.16" y2="257.86" stroke="#ea8a86" stroke-width="0.45" />
<circle cx="578.58" cy="258.89" r="1.65" fill="rgba(242,175,175,0.3)" stroke="#ea8a86" stroke-width="0.55"/>
<line x1="576.93" y1="258.89" x2="580.23" y2="258.89" stroke="#ea8a86" stroke-width="0.45" />
<circle cx="580.65" cy="259.93" r="1.65" fill="rgba(242,175,175,0.3)" stroke="#ea8a86" stroke-width="0.55"/>
<line x1="579" y1="259.93" x2="582.3" y2="259.93" stroke="#ea8a86" stroke-width="0.45" />
<circle cx="582.74" cy="260.91" r="1.65" fill="rgba(242,175,175,0.3)" stroke="#ea8a86" stroke-width="0.55"/>
<line x1="581.09" y1="260.91" x2="584.39" y2="260.91" stroke="#ea8a86" stroke-width="0.45" />
<circle cx="584.87" cy="261.82" r="1.65" fill="rgba(242,175,175,0.3)" stroke="#ea8a86" stroke-width="0.55"/>
<line x1="583.22" y1="261.82" x2="586.52" y2="261.82" stroke="#ea8a86" stroke-width="0.45" />
<circle cx="587" cy="262.73" r="1.65" fill="rgba(242,175,175,0.3)" stroke="#ea8a86" stroke-width="0.55"/>
<line x1="585.35" y1="262.73" x2="588.65" y2="262.73" stroke="#ea8a86" stroke-width="0.45" />
<circle cx="589.13" cy="263.63" r="1.65" fill="rgba(242,175,175,0.3)" stroke="#ea8a86" stroke-width="0.55"/>
<line x1="587.48" y1="263.63" x2="590.78" y2="263.63" stroke="#ea8a86" stroke-width="0.45" />
<circle cx="591.26" cy="264.54" r="1.65" fill="rgba(242,175,175,0.3)" stroke="#ea8a86" stroke-width="0.55"/>
<line x1="589.61" y1="264.54" x2="592.91" y2="264.54" stroke="#ea8a86" stroke-width="0.45" />
<circle cx="593.39" cy="265.44" r="1.65" fill="rgba(242,175,175,0.3)" stroke="#ea8a86" stroke-width="0.55"/>
<line x1="591.74" y1="265.44" x2="595.04" y2="265.44" stroke="#ea8a86" stroke-width="0.45" />
<circle cx="595.58" cy="266.18" r="1.65" fill="rgba(242,175,175,0.3)" stroke="#ea8a86" stroke-width="0.55"/>
<line x1="593.93" y1="266.18" x2="597.23" y2="266.18" stroke="#ea8a86" stroke-width="0.45" />
<circle cx="597.8" cy="266.85" r="1.65" fill="rgba(242,175,175,0.3)" stroke="#ea8a86" stroke-width="0.55"/>
<line x1="596.15" y1="266.85" x2="599.45" y2="266.85" stroke="#ea8a86" stroke-width="0.45" />
<circle cx="600.01" cy="267.52" r="1.65" fill="rgba(242,175,175,0.3)" stroke="#ea8a86" stroke-width="0.55"/>
<line x1="598.36" y1="267.52" x2="601.66" y2="267.52" stroke="#ea8a86" stroke-width="0.45" />
<circle cx="602.23" cy="268.19" r="1.65" fill="rgba(242,175,175,0.3)" stroke="#ea8a86" stroke-width="0.55"/>
<line x1="600.58" y1="268.19" x2="603.88" y2="268.19" stroke="#ea8a86" stroke-width="0.45" />
<circle cx="604.44" cy="268.86" r="1.65" fill="rgba(242,175,175,0.3)" stroke="#ea8a86" stroke-width="0.55"/>
<line x1="602.79" y1="268.86" x2="606.09" y2="268.86" stroke="#ea8a86" stroke-width="0.45" />
<circle cx="606.66" cy="269.52" r="1.65" fill="rgba(242,175,175,0.3)" stroke="#ea8a86" stroke-width="0.55"/>
<line x1="605.01" y1="269.52" x2="608.31" y2="269.52" stroke="#ea8a86" stroke-width="0.45" />
<circle cx="608.89" cy="270.15" r="1.65" fill="rgba(242,175,175,0.3)" stroke="#ea8a86" stroke-width="0.55"/>
<line x1="607.24" y1="270.15" x2="610.54" y2="270.15" stroke="#ea8a86" stroke-width="0.45" />
<circle cx="611.12" cy="270.78" r="1.65" fill="rgba(242,175,175,0.3)" stroke="#ea8a86" stroke-width="0.55"/>
<line x1="609.47" y1="270.78" x2="612.77" y2="270.78" stroke="#ea8a86" stroke-width="0.45" />
<circle cx="613.34" cy="271.41" r="1.65" fill="rgba(242,175,175,0.3)" stroke="#ea8a86" stroke-width="0.55"/>
<line x1="611.69" y1="271.41" x2="614.99" y2="271.41" stroke="#ea8a86" stroke-width="0.45" />
<circle cx="615.57" cy="272.04" r="1.65" fill="rgba(242,175,175,0.3)" stroke="#ea8a86" stroke-width="0.55"/>
<line x1="613.92" y1="272.04" x2="617.22" y2="272.04" stroke="#ea8a86" stroke-width="0.45" />
<circle cx="617.8" cy="272.67" r="1.65" fill="rgba(242,175,175,0.3)" stroke="#ea8a86" stroke-width="0.55"/>
<line x1="616.15" y1="272.67" x2="619.45" y2="272.67" stroke="#ea8a86" stroke-width="0.45" />
<circle cx="620.09" cy="272.97" r="1.65" fill="rgba(242,175,175,0.3)" stroke="#ea8a86" stroke-width="0.55"/>
<line x1="618.44" y1="272.97" x2="621.74" y2="272.97" stroke="#ea8a86" stroke-width="0.45" />
<circle cx="622.39" cy="273.26" r="1.65" fill="rgba(242,175,175,0.3)" stroke="#ea8a86" stroke-width="0.55"/>
<line x1="620.74" y1="273.26" x2="624.04" y2="273.26" stroke="#ea8a86" stroke-width="0.45" />
<circle cx="624.68" cy="273.55" r="1.65" fill="rgba(242,175,175,0.3)" stroke="#ea8a86" stroke-width="0.55"/>
<line x1="623.03" y1="273.55" x2="626.33" y2="273.55" stroke="#ea8a86" stroke-width="0.45" />
<circle cx="626.98" cy="273.83" r="1.65" fill="rgba(242,175,175,0.3)" stroke="#ea8a86" stroke-width="0.55"/>
<line x1="625.33" y1="273.83" x2="628.63" y2="273.83" stroke="#ea8a86" stroke-width="0.45" />
<circle cx="629.27" cy="274.12" r="1.65" fill="rgba(242,175,175,0.3)" stroke="#ea8a86" stroke-width="0.55"/>
<line x1="627.62" y1="274.12" x2="630.92" y2="274.12" stroke="#ea8a86" stroke-width="0.45" />
<circle cx="631.58" cy="274.31" r="1.65" fill="rgba(242,175,175,0.3)" stroke="#ea8a86" stroke-width="0.55"/>
<line x1="629.93" y1="274.31" x2="633.23" y2="274.31" stroke="#ea8a86" stroke-width="0.45" />
<circle cx="633.89" cy="274.45" r="1.65" fill="rgba(242,175,175,0.3)" stroke="#ea8a86" stroke-width="0.55"/>
<line x1="632.24" y1="274.45" x2="635.54" y2="274.45" stroke="#ea8a86" stroke-width="0.45" />
<circle cx="636.2" cy="274.6" r="1.65" fill="rgba(242,175,175,0.3)" stroke="#ea8a86" stroke-width="0.55"/>
<line x1="634.55" y1="274.6" x2="637.85" y2="274.6" stroke="#ea8a86" stroke-width="0.45" />
<polyline points="512.8,211.7 529,227.6 544.8,238.4 561.1,228.8 577,238 593,249.9 608.9,254.9 624.9,260.3 640.9,263.9 640.9,276" fill="none" stroke="#f07d1e" stroke-width="1.2" />
<circle cx="512.8" cy="211.7" r="1.8" fill="rgba(250,215,215,0.9)" stroke="#ea8a86" stroke-width="0.6"/>
<line x1="511" y1="211.7" x2="514.6" y2="211.7" stroke="#ea8a86" stroke-width="0.45" />
<circle cx="529" cy="227.6" r="1.8" fill="rgba(250,215,215,0.9)" stroke="#ea8a86" stroke-width="0.6"/>
<line x1="527.2" y1="227.6" x2="530.8" y2="227.6" stroke="#ea8a86" stroke-width="0.45" />
<circle cx="544.8" cy="238.4" r="1.8" fill="rgba(250,215,215,0.9)" stroke="#ea8a86" stroke-width="0.6"/>
<line x1="543" y1="238.4" x2="546.6" y2="238.4" stroke="#ea8a86" stroke-width="0.45" />
<circle cx="561.1" cy="228.8" r="1.8" fill="rgba(250,215,215,0.9)" stroke="#ea8a86" stroke-width="0.6"/>
<line x1="559.3" y1="228.8" x2="562.9" y2="228.8" stroke="#ea8a86" stroke-width="0.45" />
<circle cx="577" cy="238" r="1.8" fill="rgba(250,215,215,0.9)" stroke="#ea8a86" stroke-width="0.6"/>
<line x1="575.2" y1="238" x2="578.8" y2="238" stroke="#ea8a86" stroke-width="0.45" />
<circle cx="593" cy="249.9" r="1.8" fill="rgba(250,215,215,0.9)" stroke="#ea8a86" stroke-width="0.6"/>
<line x1="591.2" y1="249.9" x2="594.8" y2="249.9" stroke="#ea8a86" stroke-width="0.45" />
<circle cx="608.9" cy="254.9" r="1.8" fill="rgba(250,215,215,0.9)" stroke="#ea8a86" stroke-width="0.6"/>
<line x1="607.1" y1="254.9" x2="610.7" y2="254.9" stroke="#ea8a86" stroke-width="0.45" />
<circle cx="624.9" cy="260.3" r="1.8" fill="rgba(250,215,215,0.9)" stroke="#ea8a86" stroke-width="0.6"/>
<line x1="623.1" y1="260.3" x2="626.7" y2="260.3" stroke="#ea8a86" stroke-width="0.45" />
<circle cx="640.9" cy="263.9" r="1.8" fill="rgba(250,215,215,0.9)" stroke="#ea8a86" stroke-width="0.6"/>
<line x1="639.1" y1="263.9" x2="642.7" y2="263.9" stroke="#ea8a86" stroke-width="0.45" />
<circle cx="640.9" cy="276" r="1.8" fill="rgba(250,215,215,0.9)" stroke="#ea8a86" stroke-width="0.6"/>
<line x1="639.1" y1="276" x2="642.7" y2="276" stroke="#ea8a86" stroke-width="0.45" />
<rect x="638.7" y="260.0" width="4.5" height="8.6" rx="2" fill="#dc2b22"/>
<line x1="584.4" y1="231.7" x2="606.66" y2="243.05" stroke="#111" stroke-width="0.9" />
<path d="M610.3,244.9 L603.33,243.59 L605.45,242.43 L605.15,240.03 Z" fill="#111"/>
<line x1="596.2" y1="277.7" x2="574.5" y2="266.12" stroke="#111" stroke-width="0.9" />
<path d="M570.9,264.2 L577.84,265.64 L575.7,266.76 L575.96,269.17 Z" fill="#111"/>
<line x1="495.3" y1="169.9" x2="648.8" y2="169.9" stroke="#2a2a2a" stroke-width="1" />
<line x1="495.3" y1="296.5" x2="648.8" y2="296.5" stroke="#2a2a2a" stroke-width="1" />
<line x1="495.8" y1="169.9" x2="495.8" y2="296.5" stroke="#5a5a5a" stroke-width="1" />
<line x1="648.3" y1="169.9" x2="648.3" y2="296.5" stroke="#5a5a5a" stroke-width="1" />
<line x1="497" y1="296.5" x2="497" y2="292.9" stroke="#111" stroke-width="0.9" />
<line x1="497" y1="169.9" x2="497" y2="173.5" stroke="#111" stroke-width="0.9" />
<line x1="504.24" y1="296.5" x2="504.24" y2="294.5" stroke="#111" stroke-width="0.9" />
<line x1="504.24" y1="169.9" x2="504.24" y2="171.9" stroke="#111" stroke-width="0.9" />
<line x1="511.47" y1="296.5" x2="511.47" y2="294.5" stroke="#111" stroke-width="0.9" />
<line x1="511.47" y1="169.9" x2="511.47" y2="171.9" stroke="#111" stroke-width="0.9" />
<line x1="518.71" y1="296.5" x2="518.71" y2="294.5" stroke="#111" stroke-width="0.9" />
<line x1="518.71" y1="169.9" x2="518.71" y2="171.9" stroke="#111" stroke-width="0.9" />
<line x1="525.94" y1="296.5" x2="525.94" y2="292.9" stroke="#111" stroke-width="0.9" />
<line x1="525.94" y1="169.9" x2="525.94" y2="173.5" stroke="#111" stroke-width="0.9" />
<line x1="533.17" y1="296.5" x2="533.17" y2="294.5" stroke="#111" stroke-width="0.9" />
<line x1="533.17" y1="169.9" x2="533.17" y2="171.9" stroke="#111" stroke-width="0.9" />
<line x1="540.41" y1="296.5" x2="540.41" y2="294.5" stroke="#111" stroke-width="0.9" />
<line x1="540.41" y1="169.9" x2="540.41" y2="171.9" stroke="#111" stroke-width="0.9" />
<line x1="547.64" y1="296.5" x2="547.64" y2="294.5" stroke="#111" stroke-width="0.9" />
<line x1="547.64" y1="169.9" x2="547.64" y2="171.9" stroke="#111" stroke-width="0.9" />
<line x1="554.88" y1="296.5" x2="554.88" y2="292.9" stroke="#111" stroke-width="0.9" />
<line x1="554.88" y1="169.9" x2="554.88" y2="173.5" stroke="#111" stroke-width="0.9" />
<line x1="562.12" y1="296.5" x2="562.12" y2="294.5" stroke="#111" stroke-width="0.9" />
<line x1="562.12" y1="169.9" x2="562.12" y2="171.9" stroke="#111" stroke-width="0.9" />
<line x1="569.35" y1="296.5" x2="569.35" y2="294.5" stroke="#111" stroke-width="0.9" />
<line x1="569.35" y1="169.9" x2="569.35" y2="171.9" stroke="#111" stroke-width="0.9" />
<line x1="576.59" y1="296.5" x2="576.59" y2="294.5" stroke="#111" stroke-width="0.9" />
<line x1="576.59" y1="169.9" x2="576.59" y2="171.9" stroke="#111" stroke-width="0.9" />
<line x1="583.82" y1="296.5" x2="583.82" y2="292.9" stroke="#111" stroke-width="0.9" />
<line x1="583.82" y1="169.9" x2="583.82" y2="173.5" stroke="#111" stroke-width="0.9" />
<line x1="591.06" y1="296.5" x2="591.06" y2="294.5" stroke="#111" stroke-width="0.9" />
<line x1="591.06" y1="169.9" x2="591.06" y2="171.9" stroke="#111" stroke-width="0.9" />
<line x1="598.29" y1="296.5" x2="598.29" y2="294.5" stroke="#111" stroke-width="0.9" />
<line x1="598.29" y1="169.9" x2="598.29" y2="171.9" stroke="#111" stroke-width="0.9" />
<line x1="605.52" y1="296.5" x2="605.52" y2="294.5" stroke="#111" stroke-width="0.9" />
<line x1="605.52" y1="169.9" x2="605.52" y2="171.9" stroke="#111" stroke-width="0.9" />
<line x1="612.76" y1="296.5" x2="612.76" y2="292.9" stroke="#111" stroke-width="0.9" />
<line x1="612.76" y1="169.9" x2="612.76" y2="173.5" stroke="#111" stroke-width="0.9" />
<line x1="620" y1="296.5" x2="620" y2="294.5" stroke="#111" stroke-width="0.9" />
<line x1="620" y1="169.9" x2="620" y2="171.9" stroke="#111" stroke-width="0.9" />
<line x1="627.23" y1="296.5" x2="627.23" y2="294.5" stroke="#111" stroke-width="0.9" />
<line x1="627.23" y1="169.9" x2="627.23" y2="171.9" stroke="#111" stroke-width="0.9" />
<line x1="634.47" y1="296.5" x2="634.47" y2="294.5" stroke="#111" stroke-width="0.9" />
<line x1="634.47" y1="169.9" x2="634.47" y2="171.9" stroke="#111" stroke-width="0.9" />
<line x1="641.7" y1="296.5" x2="641.7" y2="292.9" stroke="#111" stroke-width="0.9" />
<line x1="641.7" y1="169.9" x2="641.7" y2="173.5" stroke="#111" stroke-width="0.9" />
<line x1="648.93" y1="296.5" x2="648.93" y2="294.5" stroke="#111" stroke-width="0.9" />
<line x1="648.93" y1="169.9" x2="648.93" y2="171.9" stroke="#111" stroke-width="0.9" />
<line x1="495.8" y1="296.2" x2="499.4" y2="296.2" stroke="#111" stroke-width="0.9" />
<line x1="648.3" y1="296.2" x2="644.7" y2="296.2" stroke="#111" stroke-width="0.9" />
<line x1="495.8" y1="291.15" x2="497.8" y2="291.15" stroke="#111" stroke-width="0.9" />
<line x1="648.3" y1="291.15" x2="646.3" y2="291.15" stroke="#111" stroke-width="0.9" />
<line x1="495.8" y1="286.1" x2="497.8" y2="286.1" stroke="#111" stroke-width="0.9" />
<line x1="648.3" y1="286.1" x2="646.3" y2="286.1" stroke="#111" stroke-width="0.9" />
<line x1="495.8" y1="281.04" x2="497.8" y2="281.04" stroke="#111" stroke-width="0.9" />
<line x1="648.3" y1="281.04" x2="646.3" y2="281.04" stroke="#111" stroke-width="0.9" />
<line x1="495.8" y1="275.99" x2="497.8" y2="275.99" stroke="#111" stroke-width="0.9" />
<line x1="648.3" y1="275.99" x2="646.3" y2="275.99" stroke="#111" stroke-width="0.9" />
<line x1="495.8" y1="270.94" x2="499.4" y2="270.94" stroke="#111" stroke-width="0.9" />
<line x1="648.3" y1="270.94" x2="644.7" y2="270.94" stroke="#111" stroke-width="0.9" />
<line x1="495.8" y1="265.89" x2="497.8" y2="265.89" stroke="#111" stroke-width="0.9" />
<line x1="648.3" y1="265.89" x2="646.3" y2="265.89" stroke="#111" stroke-width="0.9" />
<line x1="495.8" y1="260.84" x2="497.8" y2="260.84" stroke="#111" stroke-width="0.9" />
<line x1="648.3" y1="260.84" x2="646.3" y2="260.84" stroke="#111" stroke-width="0.9" />
<line x1="495.8" y1="255.78" x2="497.8" y2="255.78" stroke="#111" stroke-width="0.9" />
<line x1="648.3" y1="255.78" x2="646.3" y2="255.78" stroke="#111" stroke-width="0.9" />
<line x1="495.8" y1="250.73" x2="497.8" y2="250.73" stroke="#111" stroke-width="0.9" />
<line x1="648.3" y1="250.73" x2="646.3" y2="250.73" stroke="#111" stroke-width="0.9" />
<line x1="495.8" y1="245.68" x2="499.4" y2="245.68" stroke="#111" stroke-width="0.9" />
<line x1="648.3" y1="245.68" x2="644.7" y2="245.68" stroke="#111" stroke-width="0.9" />
<line x1="495.8" y1="240.63" x2="497.8" y2="240.63" stroke="#111" stroke-width="0.9" />
<line x1="648.3" y1="240.63" x2="646.3" y2="240.63" stroke="#111" stroke-width="0.9" />
<line x1="495.8" y1="235.58" x2="497.8" y2="235.58" stroke="#111" stroke-width="0.9" />
<line x1="648.3" y1="235.58" x2="646.3" y2="235.58" stroke="#111" stroke-width="0.9" />
<line x1="495.8" y1="230.52" x2="497.8" y2="230.52" stroke="#111" stroke-width="0.9" />
<line x1="648.3" y1="230.52" x2="646.3" y2="230.52" stroke="#111" stroke-width="0.9" />
<line x1="495.8" y1="225.47" x2="497.8" y2="225.47" stroke="#111" stroke-width="0.9" />
<line x1="648.3" y1="225.47" x2="646.3" y2="225.47" stroke="#111" stroke-width="0.9" />
<line x1="495.8" y1="220.42" x2="499.4" y2="220.42" stroke="#111" stroke-width="0.9" />
<line x1="648.3" y1="220.42" x2="644.7" y2="220.42" stroke="#111" stroke-width="0.9" />
<line x1="495.8" y1="215.37" x2="497.8" y2="215.37" stroke="#111" stroke-width="0.9" />
<line x1="648.3" y1="215.37" x2="646.3" y2="215.37" stroke="#111" stroke-width="0.9" />
<line x1="495.8" y1="210.32" x2="497.8" y2="210.32" stroke="#111" stroke-width="0.9" />
<line x1="648.3" y1="210.32" x2="646.3" y2="210.32" stroke="#111" stroke-width="0.9" />
<line x1="495.8" y1="205.26" x2="497.8" y2="205.26" stroke="#111" stroke-width="0.9" />
<line x1="648.3" y1="205.26" x2="646.3" y2="205.26" stroke="#111" stroke-width="0.9" />
<line x1="495.8" y1="200.21" x2="497.8" y2="200.21" stroke="#111" stroke-width="0.9" />
<line x1="648.3" y1="200.21" x2="646.3" y2="200.21" stroke="#111" stroke-width="0.9" />
<line x1="495.8" y1="195.16" x2="499.4" y2="195.16" stroke="#111" stroke-width="0.9" />
<line x1="648.3" y1="195.16" x2="644.7" y2="195.16" stroke="#111" stroke-width="0.9" />
<line x1="495.8" y1="190.11" x2="497.8" y2="190.11" stroke="#111" stroke-width="0.9" />
<line x1="648.3" y1="190.11" x2="646.3" y2="190.11" stroke="#111" stroke-width="0.9" />
<line x1="495.8" y1="185.06" x2="497.8" y2="185.06" stroke="#111" stroke-width="0.9" />
<line x1="648.3" y1="185.06" x2="646.3" y2="185.06" stroke="#111" stroke-width="0.9" />
<line x1="495.8" y1="180" x2="497.8" y2="180" stroke="#111" stroke-width="0.9" />
<line x1="648.3" y1="180" x2="646.3" y2="180" stroke="#111" stroke-width="0.9" />
<line x1="495.8" y1="174.95" x2="497.8" y2="174.95" stroke="#111" stroke-width="0.9" />
<line x1="648.3" y1="174.95" x2="646.3" y2="174.95" stroke="#111" stroke-width="0.9" />
<line x1="495.8" y1="169.9" x2="499.4" y2="169.9" stroke="#111" stroke-width="0.9" />
<line x1="648.3" y1="169.9" x2="644.7" y2="169.9" stroke="#111" stroke-width="0.9" />
<text x="497" y="309" font-size="10.4" fill="#000" text-anchor="middle" >0</text>
<text x="525.94" y="309" font-size="10.4" fill="#000" text-anchor="middle" >2</text>
<text x="554.88" y="309" font-size="10.4" fill="#000" text-anchor="middle" >4</text>
<text x="583.82" y="309" font-size="10.4" fill="#000" text-anchor="middle" >6</text>
<text x="612.76" y="309" font-size="10.4" fill="#000" text-anchor="middle" >8</text>
<text x="641.7" y="309" font-size="10.4" fill="#000" text-anchor="middle" >10</text>
<text x="492.2" y="299.3" font-size="10.4" fill="#000" text-anchor="end" >3.3</text>
<text x="492.2" y="274.04" font-size="10.4" fill="#000" text-anchor="end" >3.4</text>
<text x="492.2" y="248.78" font-size="10.4" fill="#000" text-anchor="end" >3.5</text>
<text x="492.2" y="223.52" font-size="10.4" fill="#000" text-anchor="end" >3.6</text>
<text x="492.2" y="198.26" font-size="10.4" fill="#000" text-anchor="end" >3.7</text>
<text x="492.2" y="173" font-size="10.4" fill="#000" text-anchor="end" >3.8</text>
<text x="574.8" y="325" font-size="12.4" fill="#000" text-anchor="middle" >Pressure / GPa</text>
<text transform="translate(469.7,234.5) rotate(-90)" font-size="12" text-anchor="middle"><tspan font-style="italic">d</tspan><tspan font-size="7.8" dy="3.0">001</tspan><tspan dy="-3.0" dx="0.8"> / Å</tspan></text>
</svg></body></html>
